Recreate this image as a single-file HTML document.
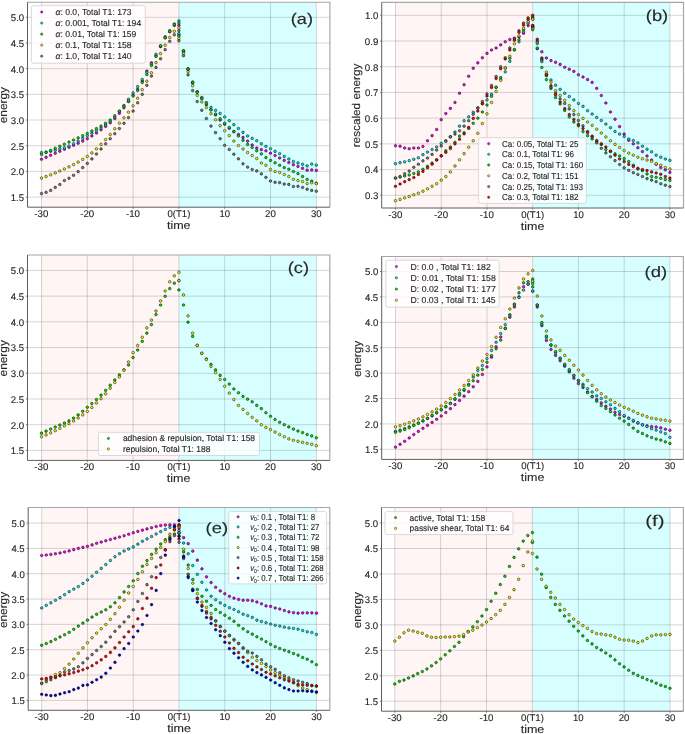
<!DOCTYPE html>
<html><head><meta charset="utf-8"><style>
html,body{margin:0;padding:0;background:#fff;}
svg{display:block;will-change:transform;}
text{fill:#262626;stroke:#262626;stroke-width:0.12px;text-rendering:geometricPrecision;}
</style></head><body>
<svg width="685" height="734" viewBox="0 0 685 734" font-family="Liberation Sans, sans-serif">
<rect width="685" height="734" fill="#fff"/>
<rect x="41.50" y="2.20" width="137.40" height="205.00" fill="#fff5f5"/>
<rect x="178.90" y="2.20" width="137.40" height="205.00" fill="#d8ffff"/>
<path d="M41.50 2.20V207.20M87.30 2.20V207.20M133.10 2.20V207.20M178.90 2.20V207.20M224.70 2.20V207.20M270.50 2.20V207.20M316.30 2.20V207.20M27.50 197.10H329.90M27.50 171.41H329.90M27.50 145.73H329.90M27.50 120.04H329.90M27.50 94.36H329.90M27.50 68.67H329.90M27.50 42.99H329.90M27.50 17.30H329.90" stroke="#000" stroke-opacity="0.16" stroke-width="1.0" fill="none"/>
<g fill="#ff00ff" stroke="#000" stroke-width="0.5"><circle cx="41.50" cy="159.19" r="1.3"/><circle cx="46.08" cy="157.24" r="1.3"/><circle cx="50.66" cy="155.27" r="1.3"/><circle cx="55.24" cy="153.27" r="1.3"/><circle cx="59.82" cy="151.26" r="1.3"/><circle cx="64.40" cy="149.22" r="1.3"/><circle cx="68.98" cy="147.22" r="1.3"/><circle cx="73.56" cy="145.26" r="1.3"/><circle cx="78.14" cy="143.24" r="1.3"/><circle cx="82.72" cy="141.08" r="1.3"/><circle cx="87.30" cy="138.69" r="1.3"/><circle cx="91.88" cy="136.00" r="1.3"/><circle cx="96.46" cy="133.04" r="1.3"/><circle cx="101.04" cy="129.82" r="1.3"/><circle cx="105.62" cy="126.37" r="1.3"/><circle cx="110.20" cy="122.71" r="1.3"/><circle cx="114.78" cy="118.50" r="1.3"/><circle cx="119.36" cy="113.36" r="1.3"/><circle cx="123.94" cy="107.71" r="1.3"/><circle cx="128.52" cy="101.55" r="1.3"/><circle cx="133.10" cy="95.38" r="1.3"/><circle cx="137.68" cy="89.22" r="1.3"/><circle cx="142.26" cy="81.00" r="1.3"/><circle cx="146.84" cy="71.09" r="1.3"/><circle cx="151.42" cy="62.82" r="1.3"/><circle cx="156.00" cy="55.83" r="1.3"/><circle cx="160.58" cy="46.58" r="1.3"/><circle cx="165.16" cy="37.85" r="1.3"/><circle cx="169.74" cy="31.68" r="1.3"/><circle cx="174.32" cy="25.52" r="1.3"/><circle cx="178.90" cy="25.31" r="1.3"/><circle cx="178.90" cy="34.77" r="1.3"/><circle cx="183.48" cy="51.72" r="1.3"/><circle cx="188.06" cy="69.70" r="1.3"/><circle cx="192.64" cy="83.06" r="1.3"/><circle cx="197.22" cy="92.05" r="1.3"/><circle cx="201.80" cy="98.47" r="1.3"/><circle cx="206.38" cy="104.63" r="1.3"/><circle cx="210.96" cy="109.77" r="1.3"/><circle cx="215.54" cy="114.91" r="1.3"/><circle cx="220.12" cy="120.04" r="1.3"/><circle cx="224.70" cy="124.15" r="1.3"/><circle cx="229.28" cy="128.26" r="1.3"/><circle cx="233.86" cy="131.60" r="1.3"/><circle cx="238.44" cy="134.43" r="1.3"/><circle cx="243.02" cy="137.41" r="1.3"/><circle cx="247.60" cy="141.11" r="1.3"/><circle cx="252.18" cy="144.96" r="1.3"/><circle cx="256.76" cy="148.09" r="1.3"/><circle cx="261.34" cy="149.63" r="1.3"/><circle cx="265.92" cy="150.81" r="1.3"/><circle cx="270.50" cy="153.13" r="1.3"/><circle cx="275.08" cy="155.49" r="1.3"/><circle cx="279.66" cy="158.01" r="1.3"/><circle cx="284.24" cy="160.42" r="1.3"/><circle cx="288.82" cy="162.53" r="1.3"/><circle cx="293.40" cy="164.74" r="1.3"/><circle cx="297.98" cy="166.43" r="1.3"/><circle cx="302.56" cy="168.33" r="1.3"/><circle cx="307.14" cy="170.13" r="1.3"/><circle cx="311.72" cy="169.92" r="1.3"/><circle cx="316.30" cy="170.39" r="1.3"/></g>
<g fill="#00e0e0" stroke="#000" stroke-width="0.5"><circle cx="41.50" cy="152.61" r="1.3"/><circle cx="46.08" cy="152.14" r="1.3"/><circle cx="50.66" cy="151.34" r="1.3"/><circle cx="55.24" cy="150.29" r="1.3"/><circle cx="59.82" cy="149.04" r="1.3"/><circle cx="64.40" cy="147.68" r="1.3"/><circle cx="68.98" cy="145.96" r="1.3"/><circle cx="73.56" cy="143.71" r="1.3"/><circle cx="78.14" cy="141.12" r="1.3"/><circle cx="82.72" cy="138.39" r="1.3"/><circle cx="87.30" cy="135.71" r="1.3"/><circle cx="91.88" cy="133.18" r="1.3"/><circle cx="96.46" cy="130.65" r="1.3"/><circle cx="101.04" cy="127.98" r="1.3"/><circle cx="105.62" cy="125.01" r="1.3"/><circle cx="110.20" cy="121.58" r="1.3"/><circle cx="114.78" cy="116.96" r="1.3"/><circle cx="119.36" cy="111.51" r="1.3"/><circle cx="123.94" cy="105.52" r="1.3"/><circle cx="128.52" cy="99.24" r="1.3"/><circle cx="133.10" cy="92.92" r="1.3"/><circle cx="137.68" cy="86.50" r="1.3"/><circle cx="142.26" cy="79.46" r="1.3"/><circle cx="146.84" cy="72.27" r="1.3"/><circle cx="151.42" cy="64.05" r="1.3"/><circle cx="156.00" cy="54.29" r="1.3"/><circle cx="160.58" cy="46.07" r="1.3"/><circle cx="165.16" cy="36.82" r="1.3"/><circle cx="169.74" cy="30.66" r="1.3"/><circle cx="174.32" cy="23.98" r="1.3"/><circle cx="178.90" cy="20.90" r="1.3"/><circle cx="178.90" cy="33.38" r="1.3"/><circle cx="183.48" cy="50.69" r="1.3"/><circle cx="188.06" cy="68.67" r="1.3"/><circle cx="192.64" cy="82.03" r="1.3"/><circle cx="197.22" cy="91.79" r="1.3"/><circle cx="201.80" cy="97.44" r="1.3"/><circle cx="206.38" cy="102.58" r="1.3"/><circle cx="210.96" cy="107.41" r="1.3"/><circle cx="215.54" cy="110.39" r="1.3"/><circle cx="220.12" cy="113.47" r="1.3"/><circle cx="224.70" cy="116.96" r="1.3"/><circle cx="229.28" cy="120.71" r="1.3"/><circle cx="233.86" cy="124.67" r="1.3"/><circle cx="238.44" cy="128.52" r="1.3"/><circle cx="243.02" cy="132.37" r="1.3"/><circle cx="247.60" cy="135.97" r="1.3"/><circle cx="252.18" cy="138.38" r="1.3"/><circle cx="256.76" cy="140.69" r="1.3"/><circle cx="261.34" cy="143.67" r="1.3"/><circle cx="265.92" cy="146.35" r="1.3"/><circle cx="270.50" cy="148.71" r="1.3"/><circle cx="275.08" cy="151.38" r="1.3"/><circle cx="279.66" cy="153.69" r="1.3"/><circle cx="284.24" cy="156.41" r="1.3"/><circle cx="288.82" cy="158.98" r="1.3"/><circle cx="293.40" cy="161.50" r="1.3"/><circle cx="297.98" cy="162.94" r="1.3"/><circle cx="302.56" cy="164.33" r="1.3"/><circle cx="307.14" cy="165.92" r="1.3"/><circle cx="311.72" cy="164.12" r="1.3"/><circle cx="316.30" cy="165.15" r="1.3"/></g>
<g fill="#00e000" stroke="#000" stroke-width="0.5"><circle cx="41.50" cy="154.41" r="1.3"/><circle cx="46.08" cy="152.41" r="1.3"/><circle cx="50.66" cy="150.39" r="1.3"/><circle cx="55.24" cy="148.34" r="1.3"/><circle cx="59.82" cy="146.28" r="1.3"/><circle cx="64.40" cy="144.19" r="1.3"/><circle cx="68.98" cy="142.10" r="1.3"/><circle cx="73.56" cy="140.02" r="1.3"/><circle cx="78.14" cy="137.91" r="1.3"/><circle cx="82.72" cy="135.71" r="1.3"/><circle cx="87.30" cy="133.40" r="1.3"/><circle cx="91.88" cy="131.04" r="1.3"/><circle cx="96.46" cy="128.64" r="1.3"/><circle cx="101.04" cy="126.09" r="1.3"/><circle cx="105.62" cy="123.27" r="1.3"/><circle cx="110.20" cy="120.04" r="1.3"/><circle cx="114.78" cy="115.78" r="1.3"/><circle cx="119.36" cy="111.10" r="1.3"/><circle cx="123.94" cy="106.16" r="1.3"/><circle cx="128.52" cy="101.06" r="1.3"/><circle cx="133.10" cy="95.90" r="1.3"/><circle cx="137.68" cy="90.61" r="1.3"/><circle cx="142.26" cy="82.54" r="1.3"/><circle cx="146.84" cy="74.58" r="1.3"/><circle cx="151.42" cy="65.59" r="1.3"/><circle cx="156.00" cy="56.39" r="1.3"/><circle cx="160.58" cy="45.81" r="1.3"/><circle cx="165.16" cy="37.49" r="1.3"/><circle cx="169.74" cy="31.48" r="1.3"/><circle cx="174.32" cy="24.49" r="1.3"/><circle cx="178.90" cy="23.10" r="1.3"/><circle cx="178.90" cy="36.00" r="1.3"/><circle cx="183.48" cy="50.90" r="1.3"/><circle cx="188.06" cy="68.98" r="1.3"/><circle cx="192.64" cy="82.54" r="1.3"/><circle cx="197.22" cy="92.30" r="1.3"/><circle cx="201.80" cy="98.47" r="1.3"/><circle cx="206.38" cy="103.71" r="1.3"/><circle cx="210.96" cy="109.77" r="1.3"/><circle cx="215.54" cy="114.08" r="1.3"/><circle cx="220.12" cy="118.71" r="1.3"/><circle cx="224.70" cy="123.28" r="1.3"/><circle cx="229.28" cy="127.59" r="1.3"/><circle cx="233.86" cy="131.60" r="1.3"/><circle cx="238.44" cy="135.97" r="1.3"/><circle cx="243.02" cy="140.28" r="1.3"/><circle cx="247.60" cy="144.39" r="1.3"/><circle cx="252.18" cy="147.53" r="1.3"/><circle cx="256.76" cy="150.81" r="1.3"/><circle cx="261.34" cy="153.90" r="1.3"/><circle cx="265.92" cy="157.60" r="1.3"/><circle cx="270.50" cy="160.42" r="1.3"/><circle cx="275.08" cy="162.73" r="1.3"/><circle cx="279.66" cy="165.30" r="1.3"/><circle cx="284.24" cy="167.61" r="1.3"/><circle cx="288.82" cy="169.21" r="1.3"/><circle cx="293.40" cy="171.52" r="1.3"/><circle cx="297.98" cy="173.62" r="1.3"/><circle cx="302.56" cy="176.55" r="1.3"/><circle cx="307.14" cy="179.43" r="1.3"/><circle cx="311.72" cy="181.17" r="1.3"/><circle cx="316.30" cy="183.23" r="1.3"/></g>
<g fill="#f0f000" stroke="#000" stroke-width="0.5"><circle cx="41.50" cy="178.09" r="1.3"/><circle cx="46.08" cy="176.53" r="1.3"/><circle cx="50.66" cy="174.82" r="1.3"/><circle cx="55.24" cy="172.97" r="1.3"/><circle cx="59.82" cy="171.01" r="1.3"/><circle cx="64.40" cy="168.95" r="1.3"/><circle cx="68.98" cy="166.80" r="1.3"/><circle cx="73.56" cy="164.54" r="1.3"/><circle cx="78.14" cy="162.11" r="1.3"/><circle cx="82.72" cy="159.42" r="1.3"/><circle cx="87.30" cy="156.41" r="1.3"/><circle cx="91.88" cy="152.92" r="1.3"/><circle cx="96.46" cy="148.88" r="1.3"/><circle cx="101.04" cy="144.39" r="1.3"/><circle cx="105.62" cy="139.58" r="1.3"/><circle cx="110.20" cy="134.53" r="1.3"/><circle cx="114.78" cy="128.78" r="1.3"/><circle cx="119.36" cy="123.22" r="1.3"/><circle cx="123.94" cy="117.79" r="1.3"/><circle cx="128.52" cy="112.11" r="1.3"/><circle cx="133.10" cy="105.81" r="1.3"/><circle cx="137.68" cy="98.21" r="1.3"/><circle cx="142.26" cy="89.73" r="1.3"/><circle cx="146.84" cy="81.21" r="1.3"/><circle cx="151.42" cy="72.78" r="1.3"/><circle cx="156.00" cy="62.61" r="1.3"/><circle cx="160.58" cy="53.62" r="1.3"/><circle cx="165.16" cy="45.19" r="1.3"/><circle cx="169.74" cy="37.49" r="1.3"/><circle cx="174.32" cy="31.27" r="1.3"/><circle cx="178.90" cy="27.78" r="1.3"/><circle cx="178.90" cy="38.52" r="1.3"/><circle cx="183.48" cy="53.47" r="1.3"/><circle cx="188.06" cy="71.75" r="1.3"/><circle cx="192.64" cy="85.78" r="1.3"/><circle cx="197.22" cy="95.38" r="1.3"/><circle cx="201.80" cy="101.91" r="1.3"/><circle cx="206.38" cy="107.61" r="1.3"/><circle cx="210.96" cy="113.72" r="1.3"/><circle cx="215.54" cy="119.79" r="1.3"/><circle cx="220.12" cy="125.69" r="1.3"/><circle cx="224.70" cy="130.73" r="1.3"/><circle cx="229.28" cy="135.71" r="1.3"/><circle cx="233.86" cy="141.11" r="1.3"/><circle cx="238.44" cy="145.52" r="1.3"/><circle cx="243.02" cy="149.02" r="1.3"/><circle cx="247.60" cy="152.51" r="1.3"/><circle cx="252.18" cy="155.49" r="1.3"/><circle cx="256.76" cy="158.52" r="1.3"/><circle cx="261.34" cy="162.94" r="1.3"/><circle cx="265.92" cy="165.30" r="1.3"/><circle cx="270.50" cy="169.51" r="1.3"/><circle cx="275.08" cy="171.52" r="1.3"/><circle cx="279.66" cy="172.49" r="1.3"/><circle cx="284.24" cy="174.50" r="1.3"/><circle cx="288.82" cy="176.55" r="1.3"/><circle cx="293.40" cy="179.33" r="1.3"/><circle cx="297.98" cy="180.61" r="1.3"/><circle cx="302.56" cy="181.53" r="1.3"/><circle cx="307.14" cy="183.59" r="1.3"/><circle cx="311.72" cy="182.82" r="1.3"/><circle cx="316.30" cy="183.69" r="1.3"/></g>
<g fill="#7a7a7a" stroke="#000" stroke-width="0.5"><circle cx="41.50" cy="193.61" r="1.3"/><circle cx="46.08" cy="192.32" r="1.3"/><circle cx="50.66" cy="190.42" r="1.3"/><circle cx="55.24" cy="187.39" r="1.3"/><circle cx="59.82" cy="184.51" r="1.3"/><circle cx="64.40" cy="180.51" r="1.3"/><circle cx="68.98" cy="178.30" r="1.3"/><circle cx="73.56" cy="175.28" r="1.3"/><circle cx="78.14" cy="171.64" r="1.3"/><circle cx="82.72" cy="167.61" r="1.3"/><circle cx="87.30" cy="163.40" r="1.3"/><circle cx="91.88" cy="158.92" r="1.3"/><circle cx="96.46" cy="154.04" r="1.3"/><circle cx="101.04" cy="148.94" r="1.3"/><circle cx="105.62" cy="143.76" r="1.3"/><circle cx="110.20" cy="138.69" r="1.3"/><circle cx="114.78" cy="133.71" r="1.3"/><circle cx="119.36" cy="128.55" r="1.3"/><circle cx="123.94" cy="123.29" r="1.3"/><circle cx="128.52" cy="117.59" r="1.3"/><circle cx="133.10" cy="111.10" r="1.3"/><circle cx="137.68" cy="102.78" r="1.3"/><circle cx="142.26" cy="94.36" r="1.3"/><circle cx="146.84" cy="85.32" r="1.3"/><circle cx="151.42" cy="76.12" r="1.3"/><circle cx="156.00" cy="67.39" r="1.3"/><circle cx="160.58" cy="58.71" r="1.3"/><circle cx="165.16" cy="49.66" r="1.3"/><circle cx="169.74" cy="41.29" r="1.3"/><circle cx="174.32" cy="34.77" r="1.3"/><circle cx="178.90" cy="30.66" r="1.3"/><circle cx="178.90" cy="40.67" r="1.3"/><circle cx="183.48" cy="55.67" r="1.3"/><circle cx="188.06" cy="74.84" r="1.3"/><circle cx="192.64" cy="90.61" r="1.3"/><circle cx="197.22" cy="101.55" r="1.3"/><circle cx="201.80" cy="110.28" r="1.3"/><circle cx="206.38" cy="118.50" r="1.3"/><circle cx="210.96" cy="126.10" r="1.3"/><circle cx="215.54" cy="132.58" r="1.3"/><circle cx="220.12" cy="138.69" r="1.3"/><circle cx="224.70" cy="145.32" r="1.3"/><circle cx="229.28" cy="149.43" r="1.3"/><circle cx="233.86" cy="154.20" r="1.3"/><circle cx="238.44" cy="158.83" r="1.3"/><circle cx="243.02" cy="163.81" r="1.3"/><circle cx="247.60" cy="167.10" r="1.3"/><circle cx="252.18" cy="169.51" r="1.3"/><circle cx="256.76" cy="170.90" r="1.3"/><circle cx="261.34" cy="173.88" r="1.3"/><circle cx="265.92" cy="177.32" r="1.3"/><circle cx="270.50" cy="181.02" r="1.3"/><circle cx="275.08" cy="182.31" r="1.3"/><circle cx="279.66" cy="182.61" r="1.3"/><circle cx="284.24" cy="184.10" r="1.3"/><circle cx="288.82" cy="184.41" r="1.3"/><circle cx="293.40" cy="186.52" r="1.3"/><circle cx="297.98" cy="186.31" r="1.3"/><circle cx="302.56" cy="187.49" r="1.3"/><circle cx="307.14" cy="189.19" r="1.3"/><circle cx="311.72" cy="190.42" r="1.3"/><circle cx="316.30" cy="191.19" r="1.3"/></g>
<path d="M27.50 2.20H329.90V207.20" fill="none" stroke="#a6a6a6" stroke-width="1.15"/>
<path d="M27.50 2.20V207.20H329.90" fill="none" stroke="#5e5e5e" stroke-width="1"/>
<path d="M41.50 207.20v1.6M87.30 207.20v1.6M133.10 207.20v1.6M178.90 207.20v1.6M224.70 207.20v1.6M270.50 207.20v1.6M316.30 207.20v1.6M27.50 197.10h-1.6M27.50 171.41h-1.6M27.50 145.73h-1.6M27.50 120.04h-1.6M27.50 94.36h-1.6M27.50 68.67h-1.6M27.50 42.99h-1.6M27.50 17.30h-1.6" stroke="#5e5e5e" stroke-width="0.8" fill="none"/>
<text x="34.39" y="217.20" font-size="9.66" textLength="14.01" lengthAdjust="spacingAndGlyphs">-30</text>
<text x="80.19" y="217.20" font-size="9.66" textLength="14.01" lengthAdjust="spacingAndGlyphs">-20</text>
<text x="125.99" y="217.20" font-size="9.66" textLength="14.01" lengthAdjust="spacingAndGlyphs">-10</text>
<text x="167.50" y="217.20" font-size="9.66" textLength="22.86" lengthAdjust="spacingAndGlyphs">0(T1)</text>
<text x="219.40" y="217.20" font-size="9.66" textLength="10.65" lengthAdjust="spacingAndGlyphs">10</text>
<text x="265.11" y="217.20" font-size="9.66" textLength="10.74" lengthAdjust="spacingAndGlyphs">20</text>
<text x="311.06" y="217.20" font-size="9.66" textLength="10.59" lengthAdjust="spacingAndGlyphs">30</text>
<text x="10.76" y="201.00" font-size="9.66" textLength="13.23" lengthAdjust="spacingAndGlyphs">1.5</text>
<text x="10.66" y="175.31" font-size="9.66" textLength="13.49" lengthAdjust="spacingAndGlyphs">2.0</text>
<text x="10.67" y="149.63" font-size="9.66" textLength="13.33" lengthAdjust="spacingAndGlyphs">2.5</text>
<text x="10.81" y="123.94" font-size="9.66" textLength="13.34" lengthAdjust="spacingAndGlyphs">3.0</text>
<text x="10.81" y="98.26" font-size="9.66" textLength="13.18" lengthAdjust="spacingAndGlyphs">3.5</text>
<text x="10.73" y="72.57" font-size="9.66" textLength="13.41" lengthAdjust="spacingAndGlyphs">4.0</text>
<text x="10.73" y="46.89" font-size="9.66" textLength="13.26" lengthAdjust="spacingAndGlyphs">4.5</text>
<text x="10.80" y="21.20" font-size="9.66" textLength="13.34" lengthAdjust="spacingAndGlyphs">5.0</text>
<text x="166.94" y="228.70" font-size="11.24" textLength="23.63" lengthAdjust="spacingAndGlyphs">time</text>
<g transform="translate(6.50,105.05) rotate(-90)"><text x="-18.22" y="0.00" font-size="11.24" textLength="36.24" lengthAdjust="spacingAndGlyphs">energy</text></g>
<text x="290.77" y="23.92" font-size="15.34" textLength="22.16" lengthAdjust="spacingAndGlyphs">(a)</text>
<rect x="31.40" y="5.70" width="113.90" height="57.50" rx="2" fill="#fff" fill-opacity="0.8" stroke="#d0d0d0" stroke-width="0.8"/>
<circle cx="41.70" cy="12.00" r="1.15" fill="#ff00ff" stroke="#000" stroke-width="0.4"/>
<text x="55.50" y="15.00" font-size="8.66" textLength="76.03" lengthAdjust="spacingAndGlyphs"><tspan font-style="italic">α</tspan>: 0.0, Total T1: 173</text>
<circle cx="41.70" cy="23.10" r="1.15" fill="#00e0e0" stroke="#000" stroke-width="0.4"/>
<text x="55.50" y="26.10" font-size="8.66" textLength="85.70" lengthAdjust="spacingAndGlyphs"><tspan font-style="italic">α</tspan>: 0.001, Total T1: 194</text>
<circle cx="41.70" cy="34.20" r="1.15" fill="#00e000" stroke="#000" stroke-width="0.4"/>
<text x="55.50" y="37.20" font-size="8.66" textLength="80.87" lengthAdjust="spacingAndGlyphs"><tspan font-style="italic">α</tspan>: 0.01, Total T1: 159</text>
<circle cx="41.70" cy="45.20" r="1.15" fill="#f0f000" stroke="#000" stroke-width="0.4"/>
<text x="55.50" y="48.20" font-size="8.66" textLength="76.03" lengthAdjust="spacingAndGlyphs"><tspan font-style="italic">α</tspan>: 0.1, Total T1: 158</text>
<circle cx="41.70" cy="56.20" r="1.15" fill="#7a7a7a" stroke="#000" stroke-width="0.4"/>
<text x="55.50" y="59.20" font-size="8.66" textLength="76.03" lengthAdjust="spacingAndGlyphs"><tspan font-style="italic">α</tspan>: 1.0, Total T1: 140</text>
<rect x="395.50" y="2.40" width="137.20" height="205.60" fill="#fff5f5"/>
<rect x="532.70" y="2.40" width="137.20" height="205.60" fill="#d8ffff"/>
<path d="M395.50 2.40V208.00M441.23 2.40V208.00M486.97 2.40V208.00M532.70 2.40V208.00M578.43 2.40V208.00M624.17 2.40V208.00M669.90 2.40V208.00M381.70 195.30H683.50M381.70 169.59H683.50M381.70 143.87H683.50M381.70 118.16H683.50M381.70 92.44H683.50M381.70 66.73H683.50M381.70 41.01H683.50M381.70 15.30H683.50" stroke="#000" stroke-opacity="0.16" stroke-width="1.0" fill="none"/>
<g fill="#ff00ff" stroke="#000" stroke-width="0.5"><circle cx="395.50" cy="145.80" r="1.3"/><circle cx="400.07" cy="146.19" r="1.3"/><circle cx="404.65" cy="147.99" r="1.3"/><circle cx="409.22" cy="148.76" r="1.3"/><circle cx="413.79" cy="147.99" r="1.3"/><circle cx="418.37" cy="147.99" r="1.3"/><circle cx="422.94" cy="146.44" r="1.3"/><circle cx="427.51" cy="140.79" r="1.3"/><circle cx="432.09" cy="135.64" r="1.3"/><circle cx="436.66" cy="129.47" r="1.3"/><circle cx="441.23" cy="119.70" r="1.3"/><circle cx="445.81" cy="113.53" r="1.3"/><circle cx="450.38" cy="108.39" r="1.3"/><circle cx="454.95" cy="102.47" r="1.3"/><circle cx="459.53" cy="93.21" r="1.3"/><circle cx="464.10" cy="84.73" r="1.3"/><circle cx="468.67" cy="76.24" r="1.3"/><circle cx="473.25" cy="68.27" r="1.3"/><circle cx="477.82" cy="62.87" r="1.3"/><circle cx="482.39" cy="57.73" r="1.3"/><circle cx="486.97" cy="53.36" r="1.3"/><circle cx="491.54" cy="50.01" r="1.3"/><circle cx="496.11" cy="47.96" r="1.3"/><circle cx="500.69" cy="44.87" r="1.3"/><circle cx="505.26" cy="41.79" r="1.3"/><circle cx="509.83" cy="39.47" r="1.3"/><circle cx="514.41" cy="38.19" r="1.3"/><circle cx="518.98" cy="36.90" r="1.3"/><circle cx="523.55" cy="33.30" r="1.3"/><circle cx="528.13" cy="25.59" r="1.3"/><circle cx="532.70" cy="25.59" r="1.3"/><circle cx="532.70" cy="26.87" r="1.3"/><circle cx="537.27" cy="48.73" r="1.3"/><circle cx="541.85" cy="51.81" r="1.3"/><circle cx="546.42" cy="57.99" r="1.3"/><circle cx="550.99" cy="60.56" r="1.3"/><circle cx="555.57" cy="62.36" r="1.3"/><circle cx="560.14" cy="64.41" r="1.3"/><circle cx="564.71" cy="67.24" r="1.3"/><circle cx="569.29" cy="69.30" r="1.3"/><circle cx="573.86" cy="71.36" r="1.3"/><circle cx="578.43" cy="74.70" r="1.3"/><circle cx="583.01" cy="77.01" r="1.3"/><circle cx="587.58" cy="79.59" r="1.3"/><circle cx="592.15" cy="82.41" r="1.3"/><circle cx="596.73" cy="88.33" r="1.3"/><circle cx="601.30" cy="95.53" r="1.3"/><circle cx="605.87" cy="102.99" r="1.3"/><circle cx="610.45" cy="111.99" r="1.3"/><circle cx="615.02" cy="119.19" r="1.3"/><circle cx="619.59" cy="126.64" r="1.3"/><circle cx="624.17" cy="134.10" r="1.3"/><circle cx="628.74" cy="140.27" r="1.3"/><circle cx="633.31" cy="143.87" r="1.3"/><circle cx="637.89" cy="147.73" r="1.3"/><circle cx="642.46" cy="151.59" r="1.3"/><circle cx="647.03" cy="155.96" r="1.3"/><circle cx="651.61" cy="160.07" r="1.3"/><circle cx="656.18" cy="164.19" r="1.3"/><circle cx="660.75" cy="167.53" r="1.3"/><circle cx="665.33" cy="169.84" r="1.3"/><circle cx="669.90" cy="172.41" r="1.3"/></g>
<g fill="#00e0e0" stroke="#000" stroke-width="0.5"><circle cx="395.50" cy="163.67" r="1.3"/><circle cx="400.07" cy="162.64" r="1.3"/><circle cx="404.65" cy="161.87" r="1.3"/><circle cx="409.22" cy="160.59" r="1.3"/><circle cx="413.79" cy="159.30" r="1.3"/><circle cx="418.37" cy="157.76" r="1.3"/><circle cx="422.94" cy="154.67" r="1.3"/><circle cx="427.51" cy="152.10" r="1.3"/><circle cx="432.09" cy="149.53" r="1.3"/><circle cx="436.66" cy="146.96" r="1.3"/><circle cx="441.23" cy="143.36" r="1.3"/><circle cx="445.81" cy="140.79" r="1.3"/><circle cx="450.38" cy="136.67" r="1.3"/><circle cx="454.95" cy="132.04" r="1.3"/><circle cx="459.53" cy="126.13" r="1.3"/><circle cx="464.10" cy="120.73" r="1.3"/><circle cx="468.67" cy="116.87" r="1.3"/><circle cx="473.25" cy="112.24" r="1.3"/><circle cx="477.82" cy="107.87" r="1.3"/><circle cx="482.39" cy="103.50" r="1.3"/><circle cx="486.97" cy="99.90" r="1.3"/><circle cx="491.54" cy="94.24" r="1.3"/><circle cx="496.11" cy="87.30" r="1.3"/><circle cx="500.69" cy="79.59" r="1.3"/><circle cx="505.26" cy="71.87" r="1.3"/><circle cx="509.83" cy="61.33" r="1.3"/><circle cx="514.41" cy="50.01" r="1.3"/><circle cx="518.98" cy="41.79" r="1.3"/><circle cx="523.55" cy="31.76" r="1.3"/><circle cx="528.13" cy="23.53" r="1.3"/><circle cx="532.70" cy="19.16" r="1.3"/><circle cx="532.70" cy="28.16" r="1.3"/><circle cx="537.27" cy="43.59" r="1.3"/><circle cx="541.85" cy="61.59" r="1.3"/><circle cx="546.42" cy="74.44" r="1.3"/><circle cx="550.99" cy="80.10" r="1.3"/><circle cx="555.57" cy="85.24" r="1.3"/><circle cx="560.14" cy="89.36" r="1.3"/><circle cx="564.71" cy="93.21" r="1.3"/><circle cx="569.29" cy="96.56" r="1.3"/><circle cx="573.86" cy="99.90" r="1.3"/><circle cx="578.43" cy="103.50" r="1.3"/><circle cx="583.01" cy="106.33" r="1.3"/><circle cx="587.58" cy="110.70" r="1.3"/><circle cx="592.15" cy="114.04" r="1.3"/><circle cx="596.73" cy="117.39" r="1.3"/><circle cx="601.30" cy="120.47" r="1.3"/><circle cx="605.87" cy="124.07" r="1.3"/><circle cx="610.45" cy="127.67" r="1.3"/><circle cx="615.02" cy="131.53" r="1.3"/><circle cx="619.59" cy="134.10" r="1.3"/><circle cx="624.17" cy="136.41" r="1.3"/><circle cx="628.74" cy="138.99" r="1.3"/><circle cx="633.31" cy="140.53" r="1.3"/><circle cx="637.89" cy="142.84" r="1.3"/><circle cx="642.46" cy="146.19" r="1.3"/><circle cx="647.03" cy="149.27" r="1.3"/><circle cx="651.61" cy="151.84" r="1.3"/><circle cx="656.18" cy="155.19" r="1.3"/><circle cx="660.75" cy="157.24" r="1.3"/><circle cx="665.33" cy="159.04" r="1.3"/><circle cx="669.90" cy="160.33" r="1.3"/></g>
<g fill="#00e000" stroke="#000" stroke-width="0.5"><circle cx="395.50" cy="178.07" r="1.3"/><circle cx="400.07" cy="177.04" r="1.3"/><circle cx="404.65" cy="176.01" r="1.3"/><circle cx="409.22" cy="174.99" r="1.3"/><circle cx="413.79" cy="173.44" r="1.3"/><circle cx="418.37" cy="171.90" r="1.3"/><circle cx="422.94" cy="169.33" r="1.3"/><circle cx="427.51" cy="166.24" r="1.3"/><circle cx="432.09" cy="163.16" r="1.3"/><circle cx="436.66" cy="159.81" r="1.3"/><circle cx="441.23" cy="155.70" r="1.3"/><circle cx="445.81" cy="150.81" r="1.3"/><circle cx="450.38" cy="146.96" r="1.3"/><circle cx="454.95" cy="142.33" r="1.3"/><circle cx="459.53" cy="136.16" r="1.3"/><circle cx="464.10" cy="132.81" r="1.3"/><circle cx="468.67" cy="128.44" r="1.3"/><circle cx="473.25" cy="123.30" r="1.3"/><circle cx="477.82" cy="118.16" r="1.3"/><circle cx="482.39" cy="111.99" r="1.3"/><circle cx="486.97" cy="105.04" r="1.3"/><circle cx="491.54" cy="96.30" r="1.3"/><circle cx="496.11" cy="87.30" r="1.3"/><circle cx="500.69" cy="77.53" r="1.3"/><circle cx="505.26" cy="68.01" r="1.3"/><circle cx="509.83" cy="58.24" r="1.3"/><circle cx="514.41" cy="49.50" r="1.3"/><circle cx="518.98" cy="39.73" r="1.3"/><circle cx="523.55" cy="29.70" r="1.3"/><circle cx="528.13" cy="21.73" r="1.3"/><circle cx="532.70" cy="17.87" r="1.3"/><circle cx="532.70" cy="29.70" r="1.3"/><circle cx="537.27" cy="47.96" r="1.3"/><circle cx="541.85" cy="67.50" r="1.3"/><circle cx="546.42" cy="79.59" r="1.3"/><circle cx="550.99" cy="88.33" r="1.3"/><circle cx="555.57" cy="97.59" r="1.3"/><circle cx="560.14" cy="104.01" r="1.3"/><circle cx="564.71" cy="110.44" r="1.3"/><circle cx="569.29" cy="116.87" r="1.3"/><circle cx="573.86" cy="122.01" r="1.3"/><circle cx="578.43" cy="125.87" r="1.3"/><circle cx="583.01" cy="131.53" r="1.3"/><circle cx="587.58" cy="135.64" r="1.3"/><circle cx="592.15" cy="138.99" r="1.3"/><circle cx="596.73" cy="141.81" r="1.3"/><circle cx="601.30" cy="144.39" r="1.3"/><circle cx="605.87" cy="149.53" r="1.3"/><circle cx="610.45" cy="151.59" r="1.3"/><circle cx="615.02" cy="153.90" r="1.3"/><circle cx="619.59" cy="155.96" r="1.3"/><circle cx="624.17" cy="158.53" r="1.3"/><circle cx="628.74" cy="161.61" r="1.3"/><circle cx="633.31" cy="165.21" r="1.3"/><circle cx="637.89" cy="169.07" r="1.3"/><circle cx="642.46" cy="170.61" r="1.3"/><circle cx="647.03" cy="173.96" r="1.3"/><circle cx="651.61" cy="176.53" r="1.3"/><circle cx="656.18" cy="177.30" r="1.3"/><circle cx="660.75" cy="178.33" r="1.3"/><circle cx="665.33" cy="179.61" r="1.3"/><circle cx="669.90" cy="180.39" r="1.3"/></g>
<g fill="#f0f000" stroke="#000" stroke-width="0.5"><circle cx="395.50" cy="200.70" r="1.3"/><circle cx="400.07" cy="199.41" r="1.3"/><circle cx="404.65" cy="197.87" r="1.3"/><circle cx="409.22" cy="196.59" r="1.3"/><circle cx="413.79" cy="194.79" r="1.3"/><circle cx="418.37" cy="193.24" r="1.3"/><circle cx="422.94" cy="191.19" r="1.3"/><circle cx="427.51" cy="188.87" r="1.3"/><circle cx="432.09" cy="186.30" r="1.3"/><circle cx="436.66" cy="183.73" r="1.3"/><circle cx="441.23" cy="180.13" r="1.3"/><circle cx="445.81" cy="176.53" r="1.3"/><circle cx="450.38" cy="171.90" r="1.3"/><circle cx="454.95" cy="165.99" r="1.3"/><circle cx="459.53" cy="159.81" r="1.3"/><circle cx="464.10" cy="153.64" r="1.3"/><circle cx="468.67" cy="147.21" r="1.3"/><circle cx="473.25" cy="140.79" r="1.3"/><circle cx="477.82" cy="133.33" r="1.3"/><circle cx="482.39" cy="123.56" r="1.3"/><circle cx="486.97" cy="113.79" r="1.3"/><circle cx="491.54" cy="102.47" r="1.3"/><circle cx="496.11" cy="91.41" r="1.3"/><circle cx="500.69" cy="80.36" r="1.3"/><circle cx="505.26" cy="68.01" r="1.3"/><circle cx="509.83" cy="56.19" r="1.3"/><circle cx="514.41" cy="43.84" r="1.3"/><circle cx="518.98" cy="35.87" r="1.3"/><circle cx="523.55" cy="28.16" r="1.3"/><circle cx="528.13" cy="21.73" r="1.3"/><circle cx="532.70" cy="19.16" r="1.3"/><circle cx="532.70" cy="28.16" r="1.3"/><circle cx="537.27" cy="42.04" r="1.3"/><circle cx="541.85" cy="59.01" r="1.3"/><circle cx="546.42" cy="72.13" r="1.3"/><circle cx="550.99" cy="82.16" r="1.3"/><circle cx="555.57" cy="90.64" r="1.3"/><circle cx="560.14" cy="95.53" r="1.3"/><circle cx="564.71" cy="100.41" r="1.3"/><circle cx="569.29" cy="105.56" r="1.3"/><circle cx="573.86" cy="110.70" r="1.3"/><circle cx="578.43" cy="114.56" r="1.3"/><circle cx="583.01" cy="118.41" r="1.3"/><circle cx="587.58" cy="122.01" r="1.3"/><circle cx="592.15" cy="125.36" r="1.3"/><circle cx="596.73" cy="129.21" r="1.3"/><circle cx="601.30" cy="133.07" r="1.3"/><circle cx="605.87" cy="136.93" r="1.3"/><circle cx="610.45" cy="140.79" r="1.3"/><circle cx="615.02" cy="144.39" r="1.3"/><circle cx="619.59" cy="147.47" r="1.3"/><circle cx="624.17" cy="150.56" r="1.3"/><circle cx="628.74" cy="153.13" r="1.3"/><circle cx="633.31" cy="155.19" r="1.3"/><circle cx="637.89" cy="157.24" r="1.3"/><circle cx="642.46" cy="158.79" r="1.3"/><circle cx="647.03" cy="160.07" r="1.3"/><circle cx="651.61" cy="161.36" r="1.3"/><circle cx="656.18" cy="163.67" r="1.3"/><circle cx="660.75" cy="165.21" r="1.3"/><circle cx="665.33" cy="167.53" r="1.3"/><circle cx="669.90" cy="169.07" r="1.3"/></g>
<g fill="#7a7a7a" stroke="#000" stroke-width="0.5"><circle cx="395.50" cy="178.07" r="1.3"/><circle cx="400.07" cy="176.53" r="1.3"/><circle cx="404.65" cy="173.70" r="1.3"/><circle cx="409.22" cy="171.13" r="1.3"/><circle cx="413.79" cy="167.27" r="1.3"/><circle cx="418.37" cy="164.19" r="1.3"/><circle cx="422.94" cy="160.84" r="1.3"/><circle cx="427.51" cy="158.01" r="1.3"/><circle cx="432.09" cy="154.41" r="1.3"/><circle cx="436.66" cy="150.04" r="1.3"/><circle cx="441.23" cy="145.93" r="1.3"/><circle cx="445.81" cy="141.30" r="1.3"/><circle cx="450.38" cy="136.93" r="1.3"/><circle cx="454.95" cy="134.10" r="1.3"/><circle cx="459.53" cy="130.76" r="1.3"/><circle cx="464.10" cy="126.13" r="1.3"/><circle cx="468.67" cy="120.73" r="1.3"/><circle cx="473.25" cy="114.30" r="1.3"/><circle cx="477.82" cy="108.13" r="1.3"/><circle cx="482.39" cy="101.44" r="1.3"/><circle cx="486.97" cy="93.99" r="1.3"/><circle cx="491.54" cy="85.50" r="1.3"/><circle cx="496.11" cy="76.50" r="1.3"/><circle cx="500.69" cy="66.73" r="1.3"/><circle cx="505.26" cy="57.73" r="1.3"/><circle cx="509.83" cy="47.96" r="1.3"/><circle cx="514.41" cy="38.70" r="1.3"/><circle cx="518.98" cy="30.73" r="1.3"/><circle cx="523.55" cy="23.01" r="1.3"/><circle cx="528.13" cy="17.87" r="1.3"/><circle cx="532.70" cy="16.59" r="1.3"/><circle cx="532.70" cy="26.87" r="1.3"/><circle cx="537.27" cy="41.01" r="1.3"/><circle cx="541.85" cy="60.04" r="1.3"/><circle cx="546.42" cy="75.73" r="1.3"/><circle cx="550.99" cy="87.30" r="1.3"/><circle cx="555.57" cy="93.21" r="1.3"/><circle cx="560.14" cy="98.87" r="1.3"/><circle cx="564.71" cy="103.50" r="1.3"/><circle cx="569.29" cy="108.90" r="1.3"/><circle cx="573.86" cy="114.56" r="1.3"/><circle cx="578.43" cy="120.47" r="1.3"/><circle cx="583.01" cy="125.87" r="1.3"/><circle cx="587.58" cy="131.53" r="1.3"/><circle cx="592.15" cy="136.93" r="1.3"/><circle cx="596.73" cy="142.84" r="1.3"/><circle cx="601.30" cy="148.24" r="1.3"/><circle cx="605.87" cy="152.87" r="1.3"/><circle cx="610.45" cy="156.73" r="1.3"/><circle cx="615.02" cy="160.59" r="1.3"/><circle cx="619.59" cy="164.44" r="1.3"/><circle cx="624.17" cy="167.79" r="1.3"/><circle cx="628.74" cy="170.36" r="1.3"/><circle cx="633.31" cy="172.67" r="1.3"/><circle cx="637.89" cy="174.47" r="1.3"/><circle cx="642.46" cy="176.53" r="1.3"/><circle cx="647.03" cy="178.59" r="1.3"/><circle cx="651.61" cy="180.13" r="1.3"/><circle cx="656.18" cy="181.67" r="1.3"/><circle cx="660.75" cy="183.73" r="1.3"/><circle cx="665.33" cy="185.27" r="1.3"/><circle cx="669.90" cy="186.56" r="1.3"/></g>
<g fill="#ff0000" stroke="#000" stroke-width="0.5"><circle cx="395.50" cy="186.30" r="1.3"/><circle cx="400.07" cy="183.99" r="1.3"/><circle cx="404.65" cy="181.67" r="1.3"/><circle cx="409.22" cy="179.61" r="1.3"/><circle cx="413.79" cy="177.56" r="1.3"/><circle cx="418.37" cy="174.47" r="1.3"/><circle cx="422.94" cy="171.39" r="1.3"/><circle cx="427.51" cy="167.79" r="1.3"/><circle cx="432.09" cy="164.19" r="1.3"/><circle cx="436.66" cy="160.07" r="1.3"/><circle cx="441.23" cy="155.96" r="1.3"/><circle cx="445.81" cy="152.36" r="1.3"/><circle cx="450.38" cy="148.50" r="1.3"/><circle cx="454.95" cy="143.87" r="1.3"/><circle cx="459.53" cy="139.24" r="1.3"/><circle cx="464.10" cy="133.84" r="1.3"/><circle cx="468.67" cy="127.41" r="1.3"/><circle cx="473.25" cy="118.41" r="1.3"/><circle cx="477.82" cy="110.96" r="1.3"/><circle cx="482.39" cy="103.76" r="1.3"/><circle cx="486.97" cy="96.04" r="1.3"/><circle cx="491.54" cy="87.56" r="1.3"/><circle cx="496.11" cy="78.56" r="1.3"/><circle cx="500.69" cy="68.79" r="1.3"/><circle cx="505.26" cy="59.01" r="1.3"/><circle cx="509.83" cy="50.01" r="1.3"/><circle cx="514.41" cy="40.24" r="1.3"/><circle cx="518.98" cy="32.27" r="1.3"/><circle cx="523.55" cy="25.07" r="1.3"/><circle cx="528.13" cy="19.16" r="1.3"/><circle cx="532.70" cy="15.30" r="1.3"/><circle cx="532.70" cy="25.59" r="1.3"/><circle cx="537.27" cy="39.21" r="1.3"/><circle cx="541.85" cy="57.99" r="1.3"/><circle cx="546.42" cy="74.70" r="1.3"/><circle cx="550.99" cy="85.76" r="1.3"/><circle cx="555.57" cy="94.76" r="1.3"/><circle cx="560.14" cy="101.96" r="1.3"/><circle cx="564.71" cy="108.64" r="1.3"/><circle cx="569.29" cy="114.56" r="1.3"/><circle cx="573.86" cy="119.44" r="1.3"/><circle cx="578.43" cy="124.33" r="1.3"/><circle cx="583.01" cy="128.44" r="1.3"/><circle cx="587.58" cy="132.56" r="1.3"/><circle cx="592.15" cy="136.16" r="1.3"/><circle cx="596.73" cy="140.53" r="1.3"/><circle cx="601.30" cy="143.87" r="1.3"/><circle cx="605.87" cy="146.96" r="1.3"/><circle cx="610.45" cy="151.07" r="1.3"/><circle cx="615.02" cy="155.19" r="1.3"/><circle cx="619.59" cy="159.04" r="1.3"/><circle cx="624.17" cy="161.61" r="1.3"/><circle cx="628.74" cy="164.44" r="1.3"/><circle cx="633.31" cy="166.50" r="1.3"/><circle cx="637.89" cy="168.30" r="1.3"/><circle cx="642.46" cy="169.59" r="1.3"/><circle cx="647.03" cy="170.61" r="1.3"/><circle cx="651.61" cy="171.90" r="1.3"/><circle cx="656.18" cy="172.93" r="1.3"/><circle cx="660.75" cy="174.21" r="1.3"/><circle cx="665.33" cy="176.53" r="1.3"/><circle cx="669.90" cy="178.07" r="1.3"/></g>
<path d="M381.70 2.40H683.50V208.00" fill="none" stroke="#a6a6a6" stroke-width="1.15"/>
<path d="M381.70 2.40V208.00H683.50" fill="none" stroke="#5e5e5e" stroke-width="1"/>
<path d="M395.50 208.00v1.6M441.23 208.00v1.6M486.97 208.00v1.6M532.70 208.00v1.6M578.43 208.00v1.6M624.17 208.00v1.6M669.90 208.00v1.6M381.70 195.30h-1.6M381.70 169.59h-1.6M381.70 143.87h-1.6M381.70 118.16h-1.6M381.70 92.44h-1.6M381.70 66.73h-1.6M381.70 41.01h-1.6M381.70 15.30h-1.6" stroke="#5e5e5e" stroke-width="0.8" fill="none"/>
<text x="388.39" y="218.00" font-size="9.66" textLength="14.01" lengthAdjust="spacingAndGlyphs">-30</text>
<text x="434.13" y="218.00" font-size="9.66" textLength="14.01" lengthAdjust="spacingAndGlyphs">-20</text>
<text x="479.86" y="218.00" font-size="9.66" textLength="14.01" lengthAdjust="spacingAndGlyphs">-10</text>
<text x="521.30" y="218.00" font-size="9.66" textLength="22.86" lengthAdjust="spacingAndGlyphs">0(T1)</text>
<text x="573.14" y="218.00" font-size="9.66" textLength="10.65" lengthAdjust="spacingAndGlyphs">10</text>
<text x="618.78" y="218.00" font-size="9.66" textLength="10.74" lengthAdjust="spacingAndGlyphs">20</text>
<text x="664.66" y="218.00" font-size="9.66" textLength="10.59" lengthAdjust="spacingAndGlyphs">30</text>
<text x="364.89" y="199.20" font-size="9.66" textLength="13.37" lengthAdjust="spacingAndGlyphs">0.3</text>
<text x="364.89" y="173.49" font-size="9.66" textLength="13.44" lengthAdjust="spacingAndGlyphs">0.4</text>
<text x="364.90" y="147.77" font-size="9.66" textLength="13.29" lengthAdjust="spacingAndGlyphs">0.5</text>
<text x="364.89" y="122.06" font-size="9.66" textLength="13.53" lengthAdjust="spacingAndGlyphs">0.6</text>
<text x="364.89" y="96.34" font-size="9.66" textLength="13.40" lengthAdjust="spacingAndGlyphs">0.7</text>
<text x="364.89" y="70.63" font-size="9.66" textLength="13.48" lengthAdjust="spacingAndGlyphs">0.8</text>
<text x="364.89" y="44.91" font-size="9.66" textLength="13.48" lengthAdjust="spacingAndGlyphs">0.9</text>
<text x="364.95" y="19.20" font-size="9.66" textLength="13.40" lengthAdjust="spacingAndGlyphs">1.0</text>
<text x="520.84" y="229.50" font-size="11.24" textLength="23.63" lengthAdjust="spacingAndGlyphs">time</text>
<g transform="translate(360.10,105.40) rotate(-90)"><text x="-41.95" y="0.00" font-size="11.24" textLength="83.78" lengthAdjust="spacingAndGlyphs">rescaled energy</text></g>
<text x="645.75" y="21.41" font-size="15.87" textLength="22.49" lengthAdjust="spacingAndGlyphs">(b)</text>
<rect x="478.60" y="137.70" width="107.70" height="65.70" rx="2" fill="#fff" fill-opacity="0.8" stroke="#d0d0d0" stroke-width="0.8"/>
<circle cx="488.70" cy="143.70" r="1.15" fill="#ff00ff" stroke="#000" stroke-width="0.4"/>
<text x="501.99" y="146.70" font-size="8.66" textLength="76.43" lengthAdjust="spacingAndGlyphs">Ca: 0.05, Total T1: 25</text>
<circle cx="488.70" cy="154.30" r="1.15" fill="#00e0e0" stroke="#000" stroke-width="0.4"/>
<text x="501.99" y="157.30" font-size="8.66" textLength="72.04" lengthAdjust="spacingAndGlyphs">Ca: 0.1, Total T1: 96</text>
<circle cx="488.70" cy="165.00" r="1.15" fill="#00e000" stroke="#000" stroke-width="0.4"/>
<text x="501.99" y="168.00" font-size="8.66" textLength="81.14" lengthAdjust="spacingAndGlyphs">Ca: 0.15, Total T1: 160</text>
<circle cx="488.70" cy="175.80" r="1.15" fill="#f0f000" stroke="#000" stroke-width="0.4"/>
<text x="501.99" y="178.80" font-size="8.66" textLength="76.46" lengthAdjust="spacingAndGlyphs">Ca: 0.2, Total T1: 151</text>
<circle cx="488.70" cy="186.60" r="1.15" fill="#7a7a7a" stroke="#000" stroke-width="0.4"/>
<text x="501.99" y="189.60" font-size="8.66" textLength="81.07" lengthAdjust="spacingAndGlyphs">Ca: 0.25, Total T1: 193</text>
<circle cx="488.70" cy="197.30" r="1.15" fill="#ff0000" stroke="#000" stroke-width="0.4"/>
<text x="501.99" y="200.30" font-size="8.66" textLength="76.41" lengthAdjust="spacingAndGlyphs">Ca: 0.3, Total T1: 182</text>
<rect x="41.50" y="255.00" width="137.40" height="205.40" fill="#fff5f5"/>
<rect x="178.90" y="255.00" width="137.40" height="205.40" fill="#d8ffff"/>
<path d="M41.50 255.00V460.40M87.30 255.00V460.40M133.10 255.00V460.40M178.90 255.00V460.40M224.70 255.00V460.40M270.50 255.00V460.40M316.30 255.00V460.40M27.50 450.40H329.80M27.50 424.69H329.80M27.50 398.97H329.80M27.50 373.26H329.80M27.50 347.54H329.80M27.50 321.83H329.80M27.50 296.11H329.80M27.50 270.40H329.80" stroke="#000" stroke-opacity="0.16" stroke-width="1.0" fill="none"/>
<g fill="#00e000" stroke="#000" stroke-width="0.5"><circle cx="41.50" cy="433.17" r="1.3"/><circle cx="46.08" cy="431.15" r="1.3"/><circle cx="50.66" cy="429.11" r="1.3"/><circle cx="55.24" cy="427.05" r="1.3"/><circle cx="59.82" cy="424.99" r="1.3"/><circle cx="64.40" cy="423.03" r="1.3"/><circle cx="68.98" cy="420.88" r="1.3"/><circle cx="73.56" cy="418.12" r="1.3"/><circle cx="78.14" cy="414.91" r="1.3"/><circle cx="82.72" cy="411.23" r="1.3"/><circle cx="87.30" cy="407.30" r="1.3"/><circle cx="91.88" cy="403.54" r="1.3"/><circle cx="96.46" cy="399.59" r="1.3"/><circle cx="101.04" cy="395.16" r="1.3"/><circle cx="105.62" cy="390.38" r="1.3"/><circle cx="110.20" cy="385.25" r="1.3"/><circle cx="114.78" cy="379.99" r="1.3"/><circle cx="119.36" cy="374.91" r="1.3"/><circle cx="123.94" cy="369.91" r="1.3"/><circle cx="128.52" cy="365.03" r="1.3"/><circle cx="133.10" cy="357.57" r="1.3"/><circle cx="137.68" cy="350.01" r="1.3"/><circle cx="142.26" cy="341.37" r="1.3"/><circle cx="146.84" cy="333.14" r="1.3"/><circle cx="151.42" cy="324.61" r="1.3"/><circle cx="156.00" cy="314.53" r="1.3"/><circle cx="160.58" cy="305.01" r="1.3"/><circle cx="165.16" cy="296.27" r="1.3"/><circle cx="169.74" cy="288.61" r="1.3"/><circle cx="174.32" cy="283.21" r="1.3"/><circle cx="178.90" cy="280.69" r="1.3"/><circle cx="178.90" cy="289.99" r="1.3"/><circle cx="183.48" cy="305.01" r="1.3"/><circle cx="188.06" cy="322.19" r="1.3"/><circle cx="192.64" cy="336.38" r="1.3"/><circle cx="197.22" cy="345.38" r="1.3"/><circle cx="201.80" cy="353.30" r="1.3"/><circle cx="206.38" cy="359.01" r="1.3"/><circle cx="210.96" cy="364.41" r="1.3"/><circle cx="215.54" cy="369.91" r="1.3"/><circle cx="220.12" cy="375.42" r="1.3"/><circle cx="224.70" cy="379.43" r="1.3"/><circle cx="229.28" cy="384.11" r="1.3"/><circle cx="233.86" cy="388.99" r="1.3"/><circle cx="238.44" cy="392.80" r="1.3"/><circle cx="243.02" cy="396.40" r="1.3"/><circle cx="247.60" cy="399.13" r="1.3"/><circle cx="252.18" cy="401.80" r="1.3"/><circle cx="256.76" cy="405.40" r="1.3"/><circle cx="261.34" cy="408.59" r="1.3"/><circle cx="265.92" cy="412.70" r="1.3"/><circle cx="270.50" cy="416.30" r="1.3"/><circle cx="275.08" cy="419.54" r="1.3"/><circle cx="279.66" cy="422.27" r="1.3"/><circle cx="284.24" cy="424.69" r="1.3"/><circle cx="288.82" cy="426.90" r="1.3"/><circle cx="293.40" cy="429.11" r="1.3"/><circle cx="297.98" cy="431.01" r="1.3"/><circle cx="302.56" cy="432.61" r="1.3"/><circle cx="307.14" cy="434.51" r="1.3"/><circle cx="311.72" cy="435.90" r="1.3"/><circle cx="316.30" cy="437.80" r="1.3"/></g>
<g fill="#f0f000" stroke="#000" stroke-width="0.5"><circle cx="41.50" cy="436.72" r="1.3"/><circle cx="46.08" cy="434.91" r="1.3"/><circle cx="50.66" cy="432.91" r="1.3"/><circle cx="55.24" cy="430.68" r="1.3"/><circle cx="59.82" cy="428.29" r="1.3"/><circle cx="64.40" cy="425.82" r="1.3"/><circle cx="68.98" cy="423.66" r="1.3"/><circle cx="73.56" cy="420.99" r="1.3"/><circle cx="78.14" cy="418.00" r="1.3"/><circle cx="82.72" cy="414.87" r="1.3"/><circle cx="87.30" cy="411.42" r="1.3"/><circle cx="91.88" cy="407.43" r="1.3"/><circle cx="96.46" cy="403.09" r="1.3"/><circle cx="101.04" cy="398.65" r="1.3"/><circle cx="105.62" cy="393.83" r="1.3"/><circle cx="110.20" cy="388.17" r="1.3"/><circle cx="114.78" cy="382.51" r="1.3"/><circle cx="119.36" cy="376.86" r="1.3"/><circle cx="123.94" cy="370.17" r="1.3"/><circle cx="128.52" cy="361.94" r="1.3"/><circle cx="133.10" cy="352.69" r="1.3"/><circle cx="137.68" cy="345.49" r="1.3"/><circle cx="142.26" cy="337.26" r="1.3"/><circle cx="146.84" cy="327.90" r="1.3"/><circle cx="151.42" cy="320.03" r="1.3"/><circle cx="156.00" cy="311.03" r="1.3"/><circle cx="160.58" cy="300.90" r="1.3"/><circle cx="165.16" cy="290.97" r="1.3"/><circle cx="169.74" cy="281.82" r="1.3"/><circle cx="174.32" cy="275.80" r="1.3"/><circle cx="178.90" cy="272.30" r="1.3"/><circle cx="178.90" cy="280.48" r="1.3"/><circle cx="183.48" cy="294.88" r="1.3"/><circle cx="188.06" cy="315.91" r="1.3"/><circle cx="192.64" cy="333.14" r="1.3"/><circle cx="197.22" cy="345.38" r="1.3"/><circle cx="201.80" cy="353.30" r="1.3"/><circle cx="206.38" cy="359.53" r="1.3"/><circle cx="210.96" cy="366.42" r="1.3"/><circle cx="215.54" cy="372.59" r="1.3"/><circle cx="220.12" cy="379.43" r="1.3"/><circle cx="224.70" cy="386.27" r="1.3"/><circle cx="229.28" cy="393.11" r="1.3"/><circle cx="233.86" cy="399.59" r="1.3"/><circle cx="238.44" cy="405.40" r="1.3"/><circle cx="243.02" cy="409.41" r="1.3"/><circle cx="247.60" cy="413.53" r="1.3"/><circle cx="252.18" cy="417.28" r="1.3"/><circle cx="256.76" cy="420.88" r="1.3"/><circle cx="261.34" cy="424.69" r="1.3"/><circle cx="265.92" cy="427.41" r="1.3"/><circle cx="270.50" cy="429.57" r="1.3"/><circle cx="275.08" cy="432.09" r="1.3"/><circle cx="279.66" cy="434.51" r="1.3"/><circle cx="284.24" cy="436.72" r="1.3"/><circle cx="288.82" cy="438.88" r="1.3"/><circle cx="293.40" cy="440.27" r="1.3"/><circle cx="297.98" cy="441.30" r="1.3"/><circle cx="302.56" cy="442.38" r="1.3"/><circle cx="307.14" cy="443.30" r="1.3"/><circle cx="311.72" cy="444.28" r="1.3"/><circle cx="316.30" cy="445.67" r="1.3"/></g>
<path d="M27.50 255.00H329.80V460.40" fill="none" stroke="#a6a6a6" stroke-width="1.15"/>
<path d="M27.50 255.00V460.40H329.80" fill="none" stroke="#5e5e5e" stroke-width="1"/>
<path d="M41.50 460.40v1.6M87.30 460.40v1.6M133.10 460.40v1.6M178.90 460.40v1.6M224.70 460.40v1.6M270.50 460.40v1.6M316.30 460.40v1.6M27.50 450.40h-1.6M27.50 424.69h-1.6M27.50 398.97h-1.6M27.50 373.26h-1.6M27.50 347.54h-1.6M27.50 321.83h-1.6M27.50 296.11h-1.6M27.50 270.40h-1.6" stroke="#5e5e5e" stroke-width="0.8" fill="none"/>
<text x="34.39" y="470.40" font-size="9.66" textLength="14.01" lengthAdjust="spacingAndGlyphs">-30</text>
<text x="80.19" y="470.40" font-size="9.66" textLength="14.01" lengthAdjust="spacingAndGlyphs">-20</text>
<text x="125.99" y="470.40" font-size="9.66" textLength="14.01" lengthAdjust="spacingAndGlyphs">-10</text>
<text x="167.50" y="470.40" font-size="9.66" textLength="22.86" lengthAdjust="spacingAndGlyphs">0(T1)</text>
<text x="219.40" y="470.40" font-size="9.66" textLength="10.65" lengthAdjust="spacingAndGlyphs">10</text>
<text x="265.11" y="470.40" font-size="9.66" textLength="10.74" lengthAdjust="spacingAndGlyphs">20</text>
<text x="311.06" y="470.40" font-size="9.66" textLength="10.59" lengthAdjust="spacingAndGlyphs">30</text>
<text x="10.76" y="454.30" font-size="9.66" textLength="13.23" lengthAdjust="spacingAndGlyphs">1.5</text>
<text x="10.66" y="428.59" font-size="9.66" textLength="13.49" lengthAdjust="spacingAndGlyphs">2.0</text>
<text x="10.67" y="402.87" font-size="9.66" textLength="13.33" lengthAdjust="spacingAndGlyphs">2.5</text>
<text x="10.81" y="377.16" font-size="9.66" textLength="13.34" lengthAdjust="spacingAndGlyphs">3.0</text>
<text x="10.81" y="351.44" font-size="9.66" textLength="13.18" lengthAdjust="spacingAndGlyphs">3.5</text>
<text x="10.73" y="325.73" font-size="9.66" textLength="13.41" lengthAdjust="spacingAndGlyphs">4.0</text>
<text x="10.73" y="300.01" font-size="9.66" textLength="13.26" lengthAdjust="spacingAndGlyphs">4.5</text>
<text x="10.80" y="274.30" font-size="9.66" textLength="13.34" lengthAdjust="spacingAndGlyphs">5.0</text>
<text x="166.89" y="481.90" font-size="11.24" textLength="23.63" lengthAdjust="spacingAndGlyphs">time</text>
<g transform="translate(6.85,358.20) rotate(-90)"><text x="-18.22" y="0.00" font-size="11.24" textLength="36.24" lengthAdjust="spacingAndGlyphs">energy</text></g>
<text x="287.76" y="273.33" font-size="15.76" textLength="21.30" lengthAdjust="spacingAndGlyphs">(c)</text>
<rect x="98.40" y="432.30" width="161.10" height="23.20" rx="2" fill="#fff" fill-opacity="0.8" stroke="#d0d0d0" stroke-width="0.8"/>
<circle cx="108.40" cy="438.40" r="1.15" fill="#00e000" stroke="#000" stroke-width="0.4"/>
<text x="122.89" y="441.40" font-size="8.66" textLength="132.15" lengthAdjust="spacingAndGlyphs">adhesion &amp; repulsion, Total T1: 158</text>
<circle cx="108.40" cy="448.90" r="1.15" fill="#f0f000" stroke="#000" stroke-width="0.4"/>
<text x="122.91" y="451.90" font-size="8.66" textLength="87.48" lengthAdjust="spacingAndGlyphs">repulsion, Total T1: 188</text>
<rect x="395.50" y="256.50" width="137.20" height="202.90" fill="#fff5f5"/>
<rect x="532.70" y="256.50" width="137.20" height="202.90" fill="#d8ffff"/>
<path d="M395.50 256.50V459.40M441.23 256.50V459.40M486.97 256.50V459.40M532.70 256.50V459.40M578.43 256.50V459.40M624.17 256.50V459.40M669.90 256.50V459.40M381.70 449.30H683.40M381.70 423.90H683.40M381.70 398.50H683.40M381.70 373.10H683.40M381.70 347.70H683.40M381.70 322.30H683.40M381.70 296.90H683.40M381.70 271.50H683.40" stroke="#000" stroke-opacity="0.16" stroke-width="1.0" fill="none"/>
<g fill="#ff00ff" stroke="#000" stroke-width="0.5"><circle cx="395.50" cy="447.12" r="1.3"/><circle cx="400.07" cy="444.30" r="1.3"/><circle cx="404.65" cy="441.27" r="1.3"/><circle cx="409.22" cy="437.95" r="1.3"/><circle cx="413.79" cy="434.57" r="1.3"/><circle cx="418.37" cy="431.40" r="1.3"/><circle cx="422.94" cy="428.32" r="1.3"/><circle cx="427.51" cy="425.33" r="1.3"/><circle cx="432.09" cy="422.33" r="1.3"/><circle cx="436.66" cy="419.26" r="1.3"/><circle cx="441.23" cy="416.03" r="1.3"/><circle cx="445.81" cy="412.47" r="1.3"/><circle cx="450.38" cy="408.66" r="1.3"/><circle cx="454.95" cy="404.63" r="1.3"/><circle cx="459.53" cy="400.43" r="1.3"/><circle cx="464.10" cy="396.16" r="1.3"/><circle cx="468.67" cy="391.69" r="1.3"/><circle cx="473.25" cy="386.82" r="1.3"/><circle cx="477.82" cy="381.38" r="1.3"/><circle cx="482.39" cy="374.52" r="1.3"/><circle cx="486.97" cy="366.90" r="1.3"/><circle cx="491.54" cy="357.20" r="1.3"/><circle cx="496.11" cy="346.79" r="1.3"/><circle cx="500.69" cy="336.98" r="1.3"/><circle cx="505.26" cy="328.40" r="1.3"/><circle cx="509.83" cy="317.22" r="1.3"/><circle cx="514.41" cy="307.06" r="1.3"/><circle cx="518.98" cy="296.90" r="1.3"/><circle cx="523.55" cy="286.74" r="1.3"/><circle cx="528.13" cy="284.20" r="1.3"/><circle cx="532.70" cy="281.66" r="1.3"/><circle cx="532.70" cy="291.11" r="1.3"/><circle cx="537.27" cy="307.06" r="1.3"/><circle cx="541.85" cy="325.60" r="1.3"/><circle cx="546.42" cy="340.49" r="1.3"/><circle cx="550.99" cy="349.48" r="1.3"/><circle cx="555.57" cy="355.42" r="1.3"/><circle cx="560.14" cy="360.70" r="1.3"/><circle cx="564.71" cy="366.14" r="1.3"/><circle cx="569.29" cy="371.83" r="1.3"/><circle cx="573.86" cy="378.18" r="1.3"/><circle cx="578.43" cy="383.62" r="1.3"/><circle cx="583.01" cy="387.58" r="1.3"/><circle cx="587.58" cy="392.00" r="1.3"/><circle cx="592.15" cy="396.42" r="1.3"/><circle cx="596.73" cy="399.62" r="1.3"/><circle cx="601.30" cy="402.92" r="1.3"/><circle cx="605.87" cy="406.22" r="1.3"/><circle cx="610.45" cy="409.12" r="1.3"/><circle cx="615.02" cy="412.32" r="1.3"/><circle cx="619.59" cy="414.50" r="1.3"/><circle cx="624.17" cy="416.13" r="1.3"/><circle cx="628.74" cy="418.21" r="1.3"/><circle cx="633.31" cy="421.11" r="1.3"/><circle cx="637.89" cy="423.09" r="1.3"/><circle cx="642.46" cy="424.81" r="1.3"/><circle cx="647.03" cy="425.88" r="1.3"/><circle cx="651.61" cy="426.59" r="1.3"/><circle cx="656.18" cy="427.00" r="1.3"/><circle cx="660.75" cy="427.91" r="1.3"/><circle cx="665.33" cy="429.18" r="1.3"/><circle cx="669.90" cy="430.30" r="1.3"/></g>
<g fill="#00e0e0" stroke="#000" stroke-width="0.5"><circle cx="395.50" cy="431.32" r="1.3"/><circle cx="400.07" cy="430.04" r="1.3"/><circle cx="404.65" cy="428.56" r="1.3"/><circle cx="409.22" cy="426.88" r="1.3"/><circle cx="413.79" cy="425.05" r="1.3"/><circle cx="418.37" cy="423.09" r="1.3"/><circle cx="422.94" cy="420.93" r="1.3"/><circle cx="427.51" cy="418.52" r="1.3"/><circle cx="432.09" cy="415.88" r="1.3"/><circle cx="436.66" cy="413.03" r="1.3"/><circle cx="441.23" cy="409.98" r="1.3"/><circle cx="445.81" cy="406.74" r="1.3"/><circle cx="450.38" cy="403.25" r="1.3"/><circle cx="454.95" cy="399.42" r="1.3"/><circle cx="459.53" cy="395.17" r="1.3"/><circle cx="464.10" cy="390.42" r="1.3"/><circle cx="468.67" cy="384.28" r="1.3"/><circle cx="473.25" cy="377.06" r="1.3"/><circle cx="477.82" cy="370.51" r="1.3"/><circle cx="482.39" cy="365.43" r="1.3"/><circle cx="486.97" cy="358.52" r="1.3"/><circle cx="491.54" cy="350.39" r="1.3"/><circle cx="496.11" cy="342.21" r="1.3"/><circle cx="500.69" cy="333.48" r="1.3"/><circle cx="505.26" cy="324.69" r="1.3"/><circle cx="509.83" cy="314.68" r="1.3"/><circle cx="514.41" cy="304.01" r="1.3"/><circle cx="518.98" cy="297.51" r="1.3"/><circle cx="523.55" cy="290.09" r="1.3"/><circle cx="528.13" cy="284.10" r="1.3"/><circle cx="532.70" cy="283.69" r="1.3"/><circle cx="532.70" cy="291.11" r="1.3"/><circle cx="537.27" cy="305.03" r="1.3"/><circle cx="541.85" cy="324.33" r="1.3"/><circle cx="546.42" cy="337.54" r="1.3"/><circle cx="550.99" cy="345.16" r="1.3"/><circle cx="555.57" cy="352.78" r="1.3"/><circle cx="560.14" cy="358.88" r="1.3"/><circle cx="564.71" cy="364.97" r="1.3"/><circle cx="569.29" cy="370.56" r="1.3"/><circle cx="573.86" cy="375.64" r="1.3"/><circle cx="578.43" cy="380.62" r="1.3"/><circle cx="583.01" cy="384.28" r="1.3"/><circle cx="587.58" cy="388.70" r="1.3"/><circle cx="592.15" cy="392.00" r="1.3"/><circle cx="596.73" cy="395.91" r="1.3"/><circle cx="601.30" cy="398.50" r="1.3"/><circle cx="605.87" cy="401.80" r="1.3"/><circle cx="610.45" cy="404.70" r="1.3"/><circle cx="615.02" cy="408.41" r="1.3"/><circle cx="619.59" cy="411.71" r="1.3"/><circle cx="624.17" cy="415.62" r="1.3"/><circle cx="628.74" cy="418.21" r="1.3"/><circle cx="633.31" cy="420.39" r="1.3"/><circle cx="637.89" cy="422.63" r="1.3"/><circle cx="642.46" cy="424.81" r="1.3"/><circle cx="647.03" cy="426.59" r="1.3"/><circle cx="651.61" cy="428.78" r="1.3"/><circle cx="656.18" cy="430.10" r="1.3"/><circle cx="660.75" cy="431.82" r="1.3"/><circle cx="665.33" cy="433.60" r="1.3"/><circle cx="669.90" cy="437.31" r="1.3"/></g>
<g fill="#00e000" stroke="#000" stroke-width="0.5"><circle cx="395.50" cy="432.28" r="1.3"/><circle cx="400.07" cy="431.10" r="1.3"/><circle cx="404.65" cy="429.59" r="1.3"/><circle cx="409.22" cy="427.67" r="1.3"/><circle cx="413.79" cy="425.47" r="1.3"/><circle cx="418.37" cy="423.24" r="1.3"/><circle cx="422.94" cy="420.85" r="1.3"/><circle cx="427.51" cy="418.22" r="1.3"/><circle cx="432.09" cy="415.42" r="1.3"/><circle cx="436.66" cy="412.45" r="1.3"/><circle cx="441.23" cy="409.42" r="1.3"/><circle cx="445.81" cy="406.69" r="1.3"/><circle cx="450.38" cy="403.58" r="1.3"/><circle cx="454.95" cy="398.69" r="1.3"/><circle cx="459.53" cy="393.42" r="1.3"/><circle cx="464.10" cy="389.36" r="1.3"/><circle cx="468.67" cy="385.23" r="1.3"/><circle cx="473.25" cy="380.72" r="1.3"/><circle cx="477.82" cy="375.13" r="1.3"/><circle cx="482.39" cy="369.54" r="1.3"/><circle cx="486.97" cy="362.28" r="1.3"/><circle cx="491.54" cy="355.57" r="1.3"/><circle cx="496.11" cy="348.72" r="1.3"/><circle cx="500.69" cy="340.08" r="1.3"/><circle cx="505.26" cy="328.40" r="1.3"/><circle cx="509.83" cy="315.70" r="1.3"/><circle cx="514.41" cy="305.03" r="1.3"/><circle cx="518.98" cy="292.84" r="1.3"/><circle cx="523.55" cy="282.83" r="1.3"/><circle cx="528.13" cy="281.66" r="1.3"/><circle cx="532.70" cy="279.12" r="1.3"/><circle cx="532.70" cy="286.89" r="1.3"/><circle cx="537.27" cy="305.03" r="1.3"/><circle cx="541.85" cy="322.60" r="1.3"/><circle cx="546.42" cy="336.12" r="1.3"/><circle cx="550.99" cy="344.91" r="1.3"/><circle cx="555.57" cy="351.51" r="1.3"/><circle cx="560.14" cy="358.01" r="1.3"/><circle cx="564.71" cy="364.21" r="1.3"/><circle cx="569.29" cy="369.59" r="1.3"/><circle cx="573.86" cy="375.49" r="1.3"/><circle cx="578.43" cy="380.62" r="1.3"/><circle cx="583.01" cy="385.80" r="1.3"/><circle cx="587.58" cy="392.61" r="1.3"/><circle cx="592.15" cy="396.82" r="1.3"/><circle cx="596.73" cy="401.19" r="1.3"/><circle cx="601.30" cy="405.51" r="1.3"/><circle cx="605.87" cy="408.41" r="1.3"/><circle cx="610.45" cy="411.71" r="1.3"/><circle cx="615.02" cy="415.01" r="1.3"/><circle cx="619.59" cy="418.21" r="1.3"/><circle cx="624.17" cy="421.11" r="1.3"/><circle cx="628.74" cy="424.41" r="1.3"/><circle cx="633.31" cy="428.12" r="1.3"/><circle cx="637.89" cy="431.42" r="1.3"/><circle cx="642.46" cy="433.60" r="1.3"/><circle cx="647.03" cy="435.79" r="1.3"/><circle cx="651.61" cy="437.51" r="1.3"/><circle cx="656.18" cy="439.09" r="1.3"/><circle cx="660.75" cy="440.11" r="1.3"/><circle cx="665.33" cy="441.88" r="1.3"/><circle cx="669.90" cy="443.41" r="1.3"/></g>
<g fill="#f0f000" stroke="#000" stroke-width="0.5"><circle cx="395.50" cy="426.90" r="1.3"/><circle cx="400.07" cy="425.70" r="1.3"/><circle cx="404.65" cy="424.28" r="1.3"/><circle cx="409.22" cy="422.67" r="1.3"/><circle cx="413.79" cy="420.89" r="1.3"/><circle cx="418.37" cy="418.97" r="1.3"/><circle cx="422.94" cy="416.86" r="1.3"/><circle cx="427.51" cy="414.49" r="1.3"/><circle cx="432.09" cy="411.86" r="1.3"/><circle cx="436.66" cy="409.00" r="1.3"/><circle cx="441.23" cy="405.92" r="1.3"/><circle cx="445.81" cy="402.49" r="1.3"/><circle cx="450.38" cy="398.65" r="1.3"/><circle cx="454.95" cy="394.46" r="1.3"/><circle cx="459.53" cy="390.02" r="1.3"/><circle cx="464.10" cy="385.39" r="1.3"/><circle cx="468.67" cy="380.47" r="1.3"/><circle cx="473.25" cy="374.88" r="1.3"/><circle cx="477.82" cy="368.02" r="1.3"/><circle cx="482.39" cy="361.01" r="1.3"/><circle cx="486.97" cy="354.51" r="1.3"/><circle cx="491.54" cy="346.58" r="1.3"/><circle cx="496.11" cy="337.29" r="1.3"/><circle cx="500.69" cy="327.48" r="1.3"/><circle cx="505.26" cy="318.79" r="1.3"/><circle cx="509.83" cy="309.09" r="1.3"/><circle cx="514.41" cy="298.02" r="1.3"/><circle cx="518.98" cy="287.91" r="1.3"/><circle cx="523.55" cy="278.92" r="1.3"/><circle cx="528.13" cy="273.79" r="1.3"/><circle cx="532.70" cy="270.48" r="1.3"/><circle cx="532.70" cy="281.30" r="1.3"/><circle cx="537.27" cy="295.99" r="1.3"/><circle cx="541.85" cy="316.00" r="1.3"/><circle cx="546.42" cy="331.09" r="1.3"/><circle cx="550.99" cy="339.88" r="1.3"/><circle cx="555.57" cy="346.02" r="1.3"/><circle cx="560.14" cy="350.39" r="1.3"/><circle cx="564.71" cy="355.42" r="1.3"/><circle cx="569.29" cy="360.20" r="1.3"/><circle cx="573.86" cy="365.28" r="1.3"/><circle cx="578.43" cy="370.10" r="1.3"/><circle cx="583.01" cy="375.13" r="1.3"/><circle cx="587.58" cy="380.42" r="1.3"/><circle cx="592.15" cy="385.39" r="1.3"/><circle cx="596.73" cy="389.81" r="1.3"/><circle cx="601.30" cy="393.72" r="1.3"/><circle cx="605.87" cy="397.03" r="1.3"/><circle cx="610.45" cy="400.07" r="1.3"/><circle cx="615.02" cy="402.51" r="1.3"/><circle cx="619.59" cy="405.10" r="1.3"/><circle cx="624.17" cy="407.29" r="1.3"/><circle cx="628.74" cy="409.12" r="1.3"/><circle cx="633.31" cy="411.25" r="1.3"/><circle cx="637.89" cy="413.38" r="1.3"/><circle cx="642.46" cy="415.16" r="1.3"/><circle cx="647.03" cy="416.74" r="1.3"/><circle cx="651.61" cy="418.21" r="1.3"/><circle cx="656.18" cy="418.92" r="1.3"/><circle cx="660.75" cy="419.79" r="1.3"/><circle cx="665.33" cy="420.29" r="1.3"/><circle cx="669.90" cy="421.11" r="1.3"/></g>
<path d="M381.70 256.50H683.40V459.40" fill="none" stroke="#a6a6a6" stroke-width="1.15"/>
<path d="M381.70 256.50V459.40H683.40" fill="none" stroke="#5e5e5e" stroke-width="1"/>
<path d="M395.50 459.40v1.6M441.23 459.40v1.6M486.97 459.40v1.6M532.70 459.40v1.6M578.43 459.40v1.6M624.17 459.40v1.6M669.90 459.40v1.6M381.70 449.30h-1.6M381.70 423.90h-1.6M381.70 398.50h-1.6M381.70 373.10h-1.6M381.70 347.70h-1.6M381.70 322.30h-1.6M381.70 296.90h-1.6M381.70 271.50h-1.6" stroke="#5e5e5e" stroke-width="0.8" fill="none"/>
<text x="388.39" y="469.40" font-size="9.66" textLength="14.01" lengthAdjust="spacingAndGlyphs">-30</text>
<text x="434.13" y="469.40" font-size="9.66" textLength="14.01" lengthAdjust="spacingAndGlyphs">-20</text>
<text x="479.86" y="469.40" font-size="9.66" textLength="14.01" lengthAdjust="spacingAndGlyphs">-10</text>
<text x="521.30" y="469.40" font-size="9.66" textLength="22.86" lengthAdjust="spacingAndGlyphs">0(T1)</text>
<text x="573.14" y="469.40" font-size="9.66" textLength="10.65" lengthAdjust="spacingAndGlyphs">10</text>
<text x="618.78" y="469.40" font-size="9.66" textLength="10.74" lengthAdjust="spacingAndGlyphs">20</text>
<text x="664.66" y="469.40" font-size="9.66" textLength="10.59" lengthAdjust="spacingAndGlyphs">30</text>
<text x="364.96" y="453.20" font-size="9.66" textLength="13.23" lengthAdjust="spacingAndGlyphs">1.5</text>
<text x="364.86" y="427.80" font-size="9.66" textLength="13.49" lengthAdjust="spacingAndGlyphs">2.0</text>
<text x="364.87" y="402.40" font-size="9.66" textLength="13.33" lengthAdjust="spacingAndGlyphs">2.5</text>
<text x="365.01" y="377.00" font-size="9.66" textLength="13.34" lengthAdjust="spacingAndGlyphs">3.0</text>
<text x="365.01" y="351.60" font-size="9.66" textLength="13.18" lengthAdjust="spacingAndGlyphs">3.5</text>
<text x="364.93" y="326.20" font-size="9.66" textLength="13.41" lengthAdjust="spacingAndGlyphs">4.0</text>
<text x="364.93" y="300.80" font-size="9.66" textLength="13.26" lengthAdjust="spacingAndGlyphs">4.5</text>
<text x="365.00" y="275.40" font-size="9.66" textLength="13.34" lengthAdjust="spacingAndGlyphs">5.0</text>
<text x="520.79" y="480.90" font-size="11.24" textLength="23.63" lengthAdjust="spacingAndGlyphs">time</text>
<g transform="translate(360.75,358.80) rotate(-90)"><text x="-18.22" y="0.00" font-size="11.24" textLength="36.24" lengthAdjust="spacingAndGlyphs">energy</text></g>
<text x="644.54" y="276.76" font-size="15.12" textLength="22.61" lengthAdjust="spacingAndGlyphs">(d)</text>
<rect x="385.80" y="260.20" width="113.30" height="47.00" rx="2" fill="#fff" fill-opacity="0.8" stroke="#d0d0d0" stroke-width="0.8"/>
<circle cx="396.40" cy="266.60" r="1.15" fill="#ff00ff" stroke="#000" stroke-width="0.4"/>
<text x="410.54" y="269.60" font-size="8.66" textLength="80.18" lengthAdjust="spacingAndGlyphs">D: 0.0 , Total T1: 182</text>
<circle cx="396.40" cy="277.80" r="1.15" fill="#00e0e0" stroke="#000" stroke-width="0.4"/>
<text x="410.54" y="280.80" font-size="8.66" textLength="85.26" lengthAdjust="spacingAndGlyphs">D: 0.01 , Total T1: 158</text>
<circle cx="396.40" cy="289.10" r="1.15" fill="#00e000" stroke="#000" stroke-width="0.4"/>
<text x="410.54" y="292.10" font-size="8.66" textLength="85.19" lengthAdjust="spacingAndGlyphs">D: 0.02 , Total T1: 177</text>
<circle cx="396.40" cy="300.30" r="1.15" fill="#f0f000" stroke="#000" stroke-width="0.4"/>
<text x="410.54" y="303.30" font-size="8.66" textLength="85.10" lengthAdjust="spacingAndGlyphs">D: 0.03 , Total T1: 145</text>
<rect x="41.70" y="507.50" width="137.35" height="202.80" fill="#fff5f5"/>
<rect x="179.05" y="507.50" width="137.35" height="202.80" fill="#d8ffff"/>
<path d="M41.70 507.50V710.30M87.48 507.50V710.30M133.27 507.50V710.30M179.05 507.50V710.30M224.83 507.50V710.30M270.62 507.50V710.30M316.40 507.50V710.30M28.20 700.40H329.80M28.20 675.06H329.80M28.20 649.73H329.80M28.20 624.39H329.80M28.20 599.06H329.80M28.20 573.72H329.80M28.20 548.39H329.80M28.20 523.05H329.80" stroke="#000" stroke-opacity="0.16" stroke-width="1.0" fill="none"/>
<g fill="#ff00ff" stroke="#000" stroke-width="0.5"><circle cx="41.70" cy="555.43" r="1.3"/><circle cx="46.28" cy="555.01" r="1.3"/><circle cx="50.86" cy="554.47" r="1.3"/><circle cx="55.44" cy="553.78" r="1.3"/><circle cx="60.01" cy="552.95" r="1.3"/><circle cx="64.59" cy="552.00" r="1.3"/><circle cx="69.17" cy="550.92" r="1.3"/><circle cx="73.75" cy="549.65" r="1.3"/><circle cx="78.33" cy="548.39" r="1.3"/><circle cx="82.91" cy="547.39" r="1.3"/><circle cx="87.48" cy="546.36" r="1.3"/><circle cx="92.06" cy="544.88" r="1.3"/><circle cx="96.64" cy="543.32" r="1.3"/><circle cx="101.22" cy="542.02" r="1.3"/><circle cx="105.80" cy="540.78" r="1.3"/><circle cx="110.38" cy="539.52" r="1.3"/><circle cx="114.95" cy="538.25" r="1.3"/><circle cx="119.53" cy="537.01" r="1.3"/><circle cx="124.11" cy="535.72" r="1.3"/><circle cx="128.69" cy="534.20" r="1.3"/><circle cx="133.27" cy="532.68" r="1.3"/><circle cx="137.84" cy="531.38" r="1.3"/><circle cx="142.42" cy="530.14" r="1.3"/><circle cx="147.00" cy="528.92" r="1.3"/><circle cx="151.58" cy="527.71" r="1.3"/><circle cx="156.16" cy="526.50" r="1.3"/><circle cx="160.74" cy="525.58" r="1.3"/><circle cx="165.31" cy="525.08" r="1.3"/><circle cx="169.89" cy="524.92" r="1.3"/><circle cx="174.47" cy="524.92" r="1.3"/><circle cx="179.05" cy="524.92" r="1.3"/><circle cx="179.05" cy="528.12" r="1.3"/><circle cx="183.63" cy="537.64" r="1.3"/><circle cx="188.21" cy="543.67" r="1.3"/><circle cx="192.79" cy="551.12" r="1.3"/><circle cx="197.36" cy="560.14" r="1.3"/><circle cx="201.94" cy="568.86" r="1.3"/><circle cx="206.52" cy="576.91" r="1.3"/><circle cx="211.10" cy="582.59" r="1.3"/><circle cx="215.68" cy="587.25" r="1.3"/><circle cx="220.25" cy="590.90" r="1.3"/><circle cx="224.83" cy="593.74" r="1.3"/><circle cx="229.41" cy="596.32" r="1.3"/><circle cx="233.99" cy="598.15" r="1.3"/><circle cx="238.57" cy="599.41" r="1.3"/><circle cx="243.15" cy="600.22" r="1.3"/><circle cx="247.72" cy="600.22" r="1.3"/><circle cx="252.30" cy="600.73" r="1.3"/><circle cx="256.88" cy="602.00" r="1.3"/><circle cx="261.46" cy="603.82" r="1.3"/><circle cx="266.04" cy="605.90" r="1.3"/><circle cx="270.62" cy="606.40" r="1.3"/><circle cx="275.19" cy="607.98" r="1.3"/><circle cx="279.77" cy="609.04" r="1.3"/><circle cx="284.35" cy="610.56" r="1.3"/><circle cx="288.93" cy="611.88" r="1.3"/><circle cx="293.51" cy="612.64" r="1.3"/><circle cx="298.09" cy="613.14" r="1.3"/><circle cx="302.66" cy="612.89" r="1.3"/><circle cx="307.24" cy="612.89" r="1.3"/><circle cx="311.82" cy="612.89" r="1.3"/><circle cx="316.40" cy="613.14" r="1.3"/></g>
<g fill="#00e0e0" stroke="#000" stroke-width="0.5"><circle cx="41.70" cy="607.98" r="1.3"/><circle cx="46.28" cy="605.39" r="1.3"/><circle cx="50.86" cy="602.81" r="1.3"/><circle cx="55.44" cy="600.27" r="1.3"/><circle cx="60.01" cy="597.64" r="1.3"/><circle cx="64.59" cy="594.65" r="1.3"/><circle cx="69.17" cy="591.66" r="1.3"/><circle cx="73.75" cy="589.10" r="1.3"/><circle cx="78.33" cy="586.49" r="1.3"/><circle cx="82.91" cy="583.41" r="1.3"/><circle cx="87.48" cy="580.00" r="1.3"/><circle cx="92.06" cy="576.21" r="1.3"/><circle cx="96.64" cy="572.25" r="1.3"/><circle cx="101.22" cy="568.38" r="1.3"/><circle cx="105.80" cy="564.50" r="1.3"/><circle cx="110.38" cy="560.45" r="1.3"/><circle cx="114.95" cy="556.70" r="1.3"/><circle cx="119.53" cy="553.64" r="1.3"/><circle cx="124.11" cy="551.02" r="1.3"/><circle cx="128.69" cy="548.94" r="1.3"/><circle cx="133.27" cy="546.87" r="1.3"/><circle cx="137.84" cy="544.13" r="1.3"/><circle cx="142.42" cy="541.29" r="1.3"/><circle cx="147.00" cy="538.89" r="1.3"/><circle cx="151.58" cy="536.53" r="1.3"/><circle cx="156.16" cy="533.94" r="1.3"/><circle cx="160.74" cy="531.61" r="1.3"/><circle cx="165.31" cy="529.38" r="1.3"/><circle cx="169.89" cy="527.41" r="1.3"/><circle cx="174.47" cy="526.60" r="1.3"/><circle cx="179.05" cy="526.09" r="1.3"/><circle cx="179.05" cy="530.65" r="1.3"/><circle cx="183.63" cy="543.01" r="1.3"/><circle cx="188.21" cy="553.76" r="1.3"/><circle cx="192.79" cy="565.56" r="1.3"/><circle cx="197.36" cy="574.38" r="1.3"/><circle cx="201.94" cy="582.28" r="1.3"/><circle cx="206.52" cy="589.99" r="1.3"/><circle cx="211.10" cy="596.22" r="1.3"/><circle cx="215.68" cy="599.72" r="1.3"/><circle cx="220.25" cy="602.91" r="1.3"/><circle cx="224.83" cy="605.39" r="1.3"/><circle cx="229.41" cy="607.82" r="1.3"/><circle cx="233.99" cy="609.50" r="1.3"/><circle cx="238.57" cy="611.78" r="1.3"/><circle cx="243.15" cy="614.21" r="1.3"/><circle cx="247.72" cy="615.63" r="1.3"/><circle cx="252.30" cy="617.40" r="1.3"/><circle cx="256.88" cy="620.14" r="1.3"/><circle cx="261.46" cy="621.45" r="1.3"/><circle cx="266.04" cy="622.72" r="1.3"/><circle cx="270.62" cy="624.04" r="1.3"/><circle cx="275.19" cy="625.30" r="1.3"/><circle cx="279.77" cy="626.12" r="1.3"/><circle cx="284.35" cy="627.13" r="1.3"/><circle cx="288.93" cy="627.94" r="1.3"/><circle cx="293.51" cy="628.45" r="1.3"/><circle cx="298.09" cy="629.21" r="1.3"/><circle cx="302.66" cy="630.52" r="1.3"/><circle cx="307.24" cy="631.79" r="1.3"/><circle cx="311.82" cy="632.55" r="1.3"/><circle cx="316.40" cy="634.38" r="1.3"/></g>
<g fill="#00e000" stroke="#000" stroke-width="0.5"><circle cx="41.70" cy="645.27" r="1.3"/><circle cx="46.28" cy="643.56" r="1.3"/><circle cx="50.86" cy="641.62" r="1.3"/><circle cx="55.44" cy="639.36" r="1.3"/><circle cx="60.01" cy="636.96" r="1.3"/><circle cx="64.59" cy="634.71" r="1.3"/><circle cx="69.17" cy="632.30" r="1.3"/><circle cx="73.75" cy="629.30" r="1.3"/><circle cx="78.33" cy="626.12" r="1.3"/><circle cx="82.91" cy="623.11" r="1.3"/><circle cx="87.48" cy="620.14" r="1.3"/><circle cx="92.06" cy="617.06" r="1.3"/><circle cx="96.64" cy="614.21" r="1.3"/><circle cx="101.22" cy="612.05" r="1.3"/><circle cx="105.80" cy="609.80" r="1.3"/><circle cx="110.38" cy="606.69" r="1.3"/><circle cx="114.95" cy="602.81" r="1.3"/><circle cx="119.53" cy="597.65" r="1.3"/><circle cx="124.11" cy="591.91" r="1.3"/><circle cx="128.69" cy="586.49" r="1.3"/><circle cx="133.27" cy="580.82" r="1.3"/><circle cx="137.84" cy="573.52" r="1.3"/><circle cx="142.42" cy="566.27" r="1.3"/><circle cx="147.00" cy="560.60" r="1.3"/><circle cx="151.58" cy="554.36" r="1.3"/><circle cx="156.16" cy="549.25" r="1.3"/><circle cx="160.74" cy="543.98" r="1.3"/><circle cx="165.31" cy="539.67" r="1.3"/><circle cx="169.89" cy="536.73" r="1.3"/><circle cx="174.47" cy="533.94" r="1.3"/><circle cx="179.05" cy="533.18" r="1.3"/><circle cx="179.05" cy="535.72" r="1.3"/><circle cx="183.63" cy="551.88" r="1.3"/><circle cx="188.21" cy="565.06" r="1.3"/><circle cx="192.79" cy="579.50" r="1.3"/><circle cx="197.36" cy="589.43" r="1.3"/><circle cx="201.94" cy="596.22" r="1.3"/><circle cx="206.52" cy="601.29" r="1.3"/><circle cx="211.10" cy="605.39" r="1.3"/><circle cx="215.68" cy="609.60" r="1.3"/><circle cx="220.25" cy="612.49" r="1.3"/><circle cx="224.83" cy="615.27" r="1.3"/><circle cx="229.41" cy="618.21" r="1.3"/><circle cx="233.99" cy="621.30" r="1.3"/><circle cx="238.57" cy="625.30" r="1.3"/><circle cx="243.15" cy="628.80" r="1.3"/><circle cx="247.72" cy="631.79" r="1.3"/><circle cx="252.30" cy="634.17" r="1.3"/><circle cx="256.88" cy="636.71" r="1.3"/><circle cx="261.46" cy="639.09" r="1.3"/><circle cx="266.04" cy="641.72" r="1.3"/><circle cx="270.62" cy="644.31" r="1.3"/><circle cx="275.19" cy="646.69" r="1.3"/><circle cx="279.77" cy="648.51" r="1.3"/><circle cx="284.35" cy="650.18" r="1.3"/><circle cx="288.93" cy="651.70" r="1.3"/><circle cx="293.51" cy="653.48" r="1.3"/><circle cx="298.09" cy="655.20" r="1.3"/><circle cx="302.66" cy="657.48" r="1.3"/><circle cx="307.24" cy="659.20" r="1.3"/><circle cx="311.82" cy="661.79" r="1.3"/><circle cx="316.40" cy="664.68" r="1.3"/></g>
<g fill="#f0f000" stroke="#000" stroke-width="0.5"><circle cx="41.70" cy="683.07" r="1.3"/><circle cx="46.28" cy="679.94" r="1.3"/><circle cx="50.86" cy="677.09" r="1.3"/><circle cx="55.44" cy="674.56" r="1.3"/><circle cx="60.01" cy="672.73" r="1.3"/><circle cx="64.59" cy="668.58" r="1.3"/><circle cx="69.17" cy="664.17" r="1.3"/><circle cx="73.75" cy="659.00" r="1.3"/><circle cx="78.33" cy="653.28" r="1.3"/><circle cx="82.91" cy="647.85" r="1.3"/><circle cx="87.48" cy="642.69" r="1.3"/><circle cx="92.06" cy="637.77" r="1.3"/><circle cx="96.64" cy="633.11" r="1.3"/><circle cx="101.22" cy="628.70" r="1.3"/><circle cx="105.80" cy="624.54" r="1.3"/><circle cx="110.38" cy="619.38" r="1.3"/><circle cx="114.95" cy="613.70" r="1.3"/><circle cx="119.53" cy="607.22" r="1.3"/><circle cx="124.11" cy="600.22" r="1.3"/><circle cx="128.69" cy="592.98" r="1.3"/><circle cx="133.27" cy="586.49" r="1.3"/><circle cx="137.84" cy="579.50" r="1.3"/><circle cx="142.42" cy="571.75" r="1.3"/><circle cx="147.00" cy="564.50" r="1.3"/><circle cx="151.58" cy="558.37" r="1.3"/><circle cx="156.16" cy="552.69" r="1.3"/><circle cx="160.74" cy="547.42" r="1.3"/><circle cx="165.31" cy="541.65" r="1.3"/><circle cx="169.89" cy="534.20" r="1.3"/><circle cx="174.47" cy="528.98" r="1.3"/><circle cx="179.05" cy="526.75" r="1.3"/><circle cx="179.05" cy="533.18" r="1.3"/><circle cx="183.63" cy="549.25" r="1.3"/><circle cx="188.21" cy="568.50" r="1.3"/><circle cx="192.79" cy="583.15" r="1.3"/><circle cx="197.36" cy="593.79" r="1.3"/><circle cx="201.94" cy="602.00" r="1.3"/><circle cx="206.52" cy="607.42" r="1.3"/><circle cx="211.10" cy="613.40" r="1.3"/><circle cx="215.68" cy="620.85" r="1.3"/><circle cx="220.25" cy="626.42" r="1.3"/><circle cx="224.83" cy="630.98" r="1.3"/><circle cx="229.41" cy="635.29" r="1.3"/><circle cx="233.99" cy="639.34" r="1.3"/><circle cx="238.57" cy="643.39" r="1.3"/><circle cx="243.15" cy="648.21" r="1.3"/><circle cx="247.72" cy="652.62" r="1.3"/><circle cx="252.30" cy="657.23" r="1.3"/><circle cx="256.88" cy="660.52" r="1.3"/><circle cx="261.46" cy="663.41" r="1.3"/><circle cx="266.04" cy="666.60" r="1.3"/><circle cx="270.62" cy="669.90" r="1.3"/><circle cx="275.19" cy="672.58" r="1.3"/><circle cx="279.77" cy="674.91" r="1.3"/><circle cx="284.35" cy="677.60" r="1.3"/><circle cx="288.93" cy="679.83" r="1.3"/><circle cx="293.51" cy="682.41" r="1.3"/><circle cx="298.09" cy="685.71" r="1.3"/><circle cx="302.66" cy="688.09" r="1.3"/><circle cx="307.24" cy="689.61" r="1.3"/><circle cx="311.82" cy="690.98" r="1.3"/><circle cx="316.40" cy="692.29" r="1.3"/></g>
<g fill="#7a7a7a" stroke="#000" stroke-width="0.5"><circle cx="41.70" cy="683.58" r="1.3"/><circle cx="46.28" cy="681.72" r="1.3"/><circle cx="50.86" cy="679.73" r="1.3"/><circle cx="55.44" cy="677.69" r="1.3"/><circle cx="60.01" cy="675.32" r="1.3"/><circle cx="64.59" cy="671.92" r="1.3"/><circle cx="69.17" cy="670.50" r="1.3"/><circle cx="73.75" cy="668.89" r="1.3"/><circle cx="78.33" cy="666.75" r="1.3"/><circle cx="82.91" cy="662.85" r="1.3"/><circle cx="87.48" cy="658.44" r="1.3"/><circle cx="92.06" cy="654.59" r="1.3"/><circle cx="96.64" cy="650.44" r="1.3"/><circle cx="101.22" cy="646.54" r="1.3"/><circle cx="105.80" cy="642.18" r="1.3"/><circle cx="110.38" cy="636.96" r="1.3"/><circle cx="114.95" cy="631.28" r="1.3"/><circle cx="119.53" cy="626.62" r="1.3"/><circle cx="124.11" cy="621.96" r="1.3"/><circle cx="128.69" cy="616.79" r="1.3"/><circle cx="133.27" cy="609.80" r="1.3"/><circle cx="137.84" cy="601.49" r="1.3"/><circle cx="142.42" cy="593.48" r="1.3"/><circle cx="147.00" cy="584.67" r="1.3"/><circle cx="151.58" cy="576.71" r="1.3"/><circle cx="156.16" cy="566.93" r="1.3"/><circle cx="160.74" cy="557.46" r="1.3"/><circle cx="165.31" cy="549.91" r="1.3"/><circle cx="169.89" cy="541.65" r="1.3"/><circle cx="174.47" cy="535.62" r="1.3"/><circle cx="179.05" cy="532.53" r="1.3"/><circle cx="179.05" cy="542.31" r="1.3"/><circle cx="183.63" cy="558.52" r="1.3"/><circle cx="188.21" cy="574.18" r="1.3"/><circle cx="192.79" cy="589.07" r="1.3"/><circle cx="197.36" cy="598.15" r="1.3"/><circle cx="201.94" cy="606.40" r="1.3"/><circle cx="206.52" cy="613.14" r="1.3"/><circle cx="211.10" cy="617.30" r="1.3"/><circle cx="215.68" cy="620.95" r="1.3"/><circle cx="220.25" cy="626.62" r="1.3"/><circle cx="224.83" cy="631.28" r="1.3"/><circle cx="229.41" cy="635.69" r="1.3"/><circle cx="233.99" cy="640.10" r="1.3"/><circle cx="238.57" cy="643.45" r="1.3"/><circle cx="243.15" cy="647.85" r="1.3"/><circle cx="247.72" cy="651.25" r="1.3"/><circle cx="252.30" cy="653.02" r="1.3"/><circle cx="256.88" cy="656.42" r="1.3"/><circle cx="261.46" cy="659.76" r="1.3"/><circle cx="266.04" cy="664.17" r="1.3"/><circle cx="270.62" cy="666.75" r="1.3"/><circle cx="275.19" cy="669.34" r="1.3"/><circle cx="279.77" cy="672.73" r="1.3"/><circle cx="284.35" cy="675.82" r="1.3"/><circle cx="288.93" cy="677.90" r="1.3"/><circle cx="293.51" cy="679.73" r="1.3"/><circle cx="298.09" cy="680.99" r="1.3"/><circle cx="302.66" cy="682.31" r="1.3"/><circle cx="307.24" cy="683.58" r="1.3"/><circle cx="311.82" cy="685.65" r="1.3"/><circle cx="316.40" cy="686.16" r="1.3"/></g>
<g fill="#ff0000" stroke="#000" stroke-width="0.5"><circle cx="41.70" cy="678.92" r="1.3"/><circle cx="46.28" cy="678.35" r="1.3"/><circle cx="50.86" cy="677.65" r="1.3"/><circle cx="55.44" cy="676.79" r="1.3"/><circle cx="60.01" cy="675.82" r="1.3"/><circle cx="64.59" cy="674.83" r="1.3"/><circle cx="69.17" cy="673.75" r="1.3"/><circle cx="73.75" cy="672.52" r="1.3"/><circle cx="78.33" cy="671.16" r="1.3"/><circle cx="82.91" cy="669.75" r="1.3"/><circle cx="87.48" cy="668.07" r="1.3"/><circle cx="92.06" cy="665.70" r="1.3"/><circle cx="96.64" cy="662.85" r="1.3"/><circle cx="101.22" cy="659.83" r="1.3"/><circle cx="105.80" cy="656.42" r="1.3"/><circle cx="110.38" cy="652.42" r="1.3"/><circle cx="114.95" cy="647.85" r="1.3"/><circle cx="119.53" cy="642.53" r="1.3"/><circle cx="124.11" cy="636.96" r="1.3"/><circle cx="128.69" cy="631.79" r="1.3"/><circle cx="133.27" cy="626.62" r="1.3"/><circle cx="137.84" cy="618.87" r="1.3"/><circle cx="142.42" cy="608.48" r="1.3"/><circle cx="147.00" cy="598.15" r="1.3"/><circle cx="151.58" cy="588.31" r="1.3"/><circle cx="156.16" cy="577.62" r="1.3"/><circle cx="160.74" cy="565.06" r="1.3"/><circle cx="165.31" cy="549.91" r="1.3"/><circle cx="169.89" cy="538.25" r="1.3"/><circle cx="174.47" cy="529.94" r="1.3"/><circle cx="179.05" cy="525.08" r="1.3"/><circle cx="179.05" cy="539.06" r="1.3"/><circle cx="183.63" cy="555.99" r="1.3"/><circle cx="188.21" cy="576.25" r="1.3"/><circle cx="192.79" cy="590.39" r="1.3"/><circle cx="197.36" cy="598.65" r="1.3"/><circle cx="201.94" cy="605.39" r="1.3"/><circle cx="206.52" cy="611.62" r="1.3"/><circle cx="211.10" cy="618.87" r="1.3"/><circle cx="215.68" cy="625.30" r="1.3"/><circle cx="220.25" cy="631.28" r="1.3"/><circle cx="224.83" cy="636.96" r="1.3"/><circle cx="229.41" cy="642.94" r="1.3"/><circle cx="233.99" cy="648.31" r="1.3"/><circle cx="238.57" cy="652.62" r="1.3"/><circle cx="243.15" cy="657.23" r="1.3"/><circle cx="247.72" cy="660.72" r="1.3"/><circle cx="252.30" cy="664.02" r="1.3"/><circle cx="256.88" cy="666.91" r="1.3"/><circle cx="261.46" cy="669.49" r="1.3"/><circle cx="266.04" cy="672.18" r="1.3"/><circle cx="270.62" cy="673.90" r="1.3"/><circle cx="275.19" cy="675.82" r="1.3"/><circle cx="279.77" cy="677.80" r="1.3"/><circle cx="284.35" cy="679.78" r="1.3"/><circle cx="288.93" cy="681.09" r="1.3"/><circle cx="293.51" cy="682.82" r="1.3"/><circle cx="298.09" cy="684.39" r="1.3"/><circle cx="302.66" cy="685.05" r="1.3"/><circle cx="307.24" cy="685.30" r="1.3"/><circle cx="311.82" cy="685.40" r="1.3"/><circle cx="316.40" cy="686.01" r="1.3"/></g>
<g fill="#0000e0" stroke="#000" stroke-width="0.5"><circle cx="41.70" cy="694.32" r="1.3"/><circle cx="46.28" cy="694.98" r="1.3"/><circle cx="50.86" cy="695.64" r="1.3"/><circle cx="55.44" cy="695.33" r="1.3"/><circle cx="60.01" cy="694.02" r="1.3"/><circle cx="64.59" cy="692.70" r="1.3"/><circle cx="69.17" cy="691.68" r="1.3"/><circle cx="73.75" cy="689.61" r="1.3"/><circle cx="78.33" cy="688.09" r="1.3"/><circle cx="82.91" cy="685.40" r="1.3"/><circle cx="87.48" cy="684.89" r="1.3"/><circle cx="92.06" cy="682.31" r="1.3"/><circle cx="96.64" cy="679.73" r="1.3"/><circle cx="101.22" cy="677.09" r="1.3"/><circle cx="105.80" cy="673.24" r="1.3"/><circle cx="110.38" cy="668.07" r="1.3"/><circle cx="114.95" cy="662.35" r="1.3"/><circle cx="119.53" cy="655.10" r="1.3"/><circle cx="124.11" cy="648.61" r="1.3"/><circle cx="128.69" cy="643.45" r="1.3"/><circle cx="133.27" cy="636.96" r="1.3"/><circle cx="137.84" cy="631.03" r="1.3"/><circle cx="142.42" cy="624.54" r="1.3"/><circle cx="147.00" cy="615.47" r="1.3"/><circle cx="151.58" cy="604.63" r="1.3"/><circle cx="156.16" cy="590.39" r="1.3"/><circle cx="160.74" cy="573.62" r="1.3"/><circle cx="165.31" cy="555.13" r="1.3"/><circle cx="169.89" cy="539.52" r="1.3"/><circle cx="174.47" cy="526.50" r="1.3"/><circle cx="179.05" cy="520.47" r="1.3"/><circle cx="179.05" cy="536.43" r="1.3"/><circle cx="183.63" cy="557.15" r="1.3"/><circle cx="188.21" cy="577.62" r="1.3"/><circle cx="192.79" cy="590.39" r="1.3"/><circle cx="197.36" cy="602.05" r="1.3"/><circle cx="201.94" cy="610.56" r="1.3"/><circle cx="206.52" cy="617.55" r="1.3"/><circle cx="211.10" cy="623.53" r="1.3"/><circle cx="215.68" cy="629.71" r="1.3"/><circle cx="220.25" cy="635.69" r="1.3"/><circle cx="224.83" cy="642.18" r="1.3"/><circle cx="229.41" cy="648.61" r="1.3"/><circle cx="233.99" cy="653.22" r="1.3"/><circle cx="238.57" cy="657.79" r="1.3"/><circle cx="243.15" cy="662.30" r="1.3"/><circle cx="247.72" cy="666.40" r="1.3"/><circle cx="252.30" cy="669.90" r="1.3"/><circle cx="256.88" cy="672.58" r="1.3"/><circle cx="261.46" cy="674.91" r="1.3"/><circle cx="266.04" cy="677.40" r="1.3"/><circle cx="270.62" cy="680.08" r="1.3"/><circle cx="275.19" cy="682.72" r="1.3"/><circle cx="279.77" cy="685.30" r="1.3"/><circle cx="284.35" cy="687.88" r="1.3"/><circle cx="288.93" cy="689.61" r="1.3"/><circle cx="293.51" cy="690.98" r="1.3"/><circle cx="298.09" cy="690.98" r="1.3"/><circle cx="302.66" cy="690.72" r="1.3"/><circle cx="307.24" cy="691.23" r="1.3"/><circle cx="311.82" cy="691.38" r="1.3"/><circle cx="316.40" cy="691.99" r="1.3"/></g>
<path d="M28.20 507.50H329.80V710.30" fill="none" stroke="#a6a6a6" stroke-width="1.15"/>
<path d="M28.20 507.50V710.30H329.80" fill="none" stroke="#5e5e5e" stroke-width="1"/>
<path d="M41.70 710.30v1.6M87.48 710.30v1.6M133.27 710.30v1.6M179.05 710.30v1.6M224.83 710.30v1.6M270.62 710.30v1.6M316.40 710.30v1.6M28.20 700.40h-1.6M28.20 675.06h-1.6M28.20 649.73h-1.6M28.20 624.39h-1.6M28.20 599.06h-1.6M28.20 573.72h-1.6M28.20 548.39h-1.6M28.20 523.05h-1.6" stroke="#5e5e5e" stroke-width="0.8" fill="none"/>
<text x="34.59" y="720.30" font-size="9.66" textLength="14.01" lengthAdjust="spacingAndGlyphs">-30</text>
<text x="80.38" y="720.30" font-size="9.66" textLength="14.01" lengthAdjust="spacingAndGlyphs">-20</text>
<text x="126.16" y="720.30" font-size="9.66" textLength="14.01" lengthAdjust="spacingAndGlyphs">-10</text>
<text x="167.65" y="720.30" font-size="9.66" textLength="22.86" lengthAdjust="spacingAndGlyphs">0(T1)</text>
<text x="219.54" y="720.30" font-size="9.66" textLength="10.65" lengthAdjust="spacingAndGlyphs">10</text>
<text x="265.23" y="720.30" font-size="9.66" textLength="10.74" lengthAdjust="spacingAndGlyphs">20</text>
<text x="311.16" y="720.30" font-size="9.66" textLength="10.59" lengthAdjust="spacingAndGlyphs">30</text>
<text x="11.46" y="704.30" font-size="9.66" textLength="13.23" lengthAdjust="spacingAndGlyphs">1.5</text>
<text x="11.36" y="678.96" font-size="9.66" textLength="13.49" lengthAdjust="spacingAndGlyphs">2.0</text>
<text x="11.37" y="653.63" font-size="9.66" textLength="13.33" lengthAdjust="spacingAndGlyphs">2.5</text>
<text x="11.51" y="628.29" font-size="9.66" textLength="13.34" lengthAdjust="spacingAndGlyphs">3.0</text>
<text x="11.51" y="602.96" font-size="9.66" textLength="13.18" lengthAdjust="spacingAndGlyphs">3.5</text>
<text x="11.43" y="577.62" font-size="9.66" textLength="13.41" lengthAdjust="spacingAndGlyphs">4.0</text>
<text x="11.43" y="552.29" font-size="9.66" textLength="13.26" lengthAdjust="spacingAndGlyphs">4.5</text>
<text x="11.50" y="526.95" font-size="9.66" textLength="13.34" lengthAdjust="spacingAndGlyphs">5.0</text>
<text x="167.24" y="731.80" font-size="11.24" textLength="23.63" lengthAdjust="spacingAndGlyphs">time</text>
<g transform="translate(6.85,609.90) rotate(-90)"><text x="-18.22" y="0.00" font-size="11.24" textLength="36.24" lengthAdjust="spacingAndGlyphs">energy</text></g>
<text x="205.54" y="532.88" font-size="15.01" textLength="22.61" lengthAdjust="spacingAndGlyphs">(e)</text>
<rect x="228.70" y="511.40" width="97.90" height="72.50" rx="2" fill="#fff" fill-opacity="0.8" stroke="#d0d0d0" stroke-width="0.8"/>
<circle cx="238.10" cy="516.80" r="1.15" fill="#ff00ff" stroke="#000" stroke-width="0.4"/>
<text x="250.20" y="519.80" font-size="8.66" textLength="64.92" lengthAdjust="spacingAndGlyphs"><tspan font-style="italic">v</tspan><tspan font-size="5.63" dy="1.6">0</tspan><tspan dy="-1.6">: 0.1 , Total T1: 8</tspan></text>
<circle cx="238.10" cy="526.90" r="1.15" fill="#00e0e0" stroke="#000" stroke-width="0.4"/>
<text x="250.20" y="529.90" font-size="8.66" textLength="69.22" lengthAdjust="spacingAndGlyphs"><tspan font-style="italic">v</tspan><tspan font-size="5.63" dy="1.6">0</tspan><tspan dy="-1.6">: 0.2 , Total T1: 27</tspan></text>
<circle cx="238.10" cy="537.30" r="1.15" fill="#00e000" stroke="#000" stroke-width="0.4"/>
<text x="250.20" y="540.30" font-size="8.66" textLength="69.22" lengthAdjust="spacingAndGlyphs"><tspan font-style="italic">v</tspan><tspan font-size="5.63" dy="1.6">0</tspan><tspan dy="-1.6">: 0.3 , Total T1: 72</tspan></text>
<circle cx="238.10" cy="547.50" r="1.15" fill="#f0f000" stroke="#000" stroke-width="0.4"/>
<text x="250.20" y="550.50" font-size="8.66" textLength="69.22" lengthAdjust="spacingAndGlyphs"><tspan font-style="italic">v</tspan><tspan font-size="5.63" dy="1.6">0</tspan><tspan dy="-1.6">: 0.4 , Total T1: 98</tspan></text>
<circle cx="238.10" cy="557.60" r="1.15" fill="#7a7a7a" stroke="#000" stroke-width="0.4"/>
<text x="250.20" y="560.60" font-size="8.66" textLength="73.51" lengthAdjust="spacingAndGlyphs"><tspan font-style="italic">v</tspan><tspan font-size="5.63" dy="1.6">0</tspan><tspan dy="-1.6">: 0.5 , Total T1: 158</tspan></text>
<circle cx="238.10" cy="568.00" r="1.15" fill="#ff0000" stroke="#000" stroke-width="0.4"/>
<text x="250.20" y="571.00" font-size="8.66" textLength="73.51" lengthAdjust="spacingAndGlyphs"><tspan font-style="italic">v</tspan><tspan font-size="5.63" dy="1.6">0</tspan><tspan dy="-1.6">: 0.6 , Total T1: 268</tspan></text>
<circle cx="238.10" cy="578.10" r="1.15" fill="#0000e0" stroke="#000" stroke-width="0.4"/>
<text x="250.20" y="581.10" font-size="8.66" textLength="73.51" lengthAdjust="spacingAndGlyphs"><tspan font-style="italic">v</tspan><tspan font-size="5.63" dy="1.6">0</tspan><tspan dy="-1.6">: 0.7 , Total T1: 266</tspan></text>
<rect x="394.80" y="507.50" width="137.60" height="203.70" fill="#fff5f5"/>
<rect x="532.40" y="507.50" width="137.60" height="203.70" fill="#d8ffff"/>
<path d="M394.80 507.50V711.20M440.67 507.50V711.20M486.53 507.50V711.20M532.40 507.50V711.20M578.27 507.50V711.20M624.13 507.50V711.20M670.00 507.50V711.20M381.50 701.20H683.40M381.50 675.75H683.40M381.50 650.30H683.40M381.50 624.85H683.40M381.50 599.40H683.40M381.50 573.95H683.40M381.50 548.50H683.40M381.50 523.05H683.40" stroke="#000" stroke-opacity="0.16" stroke-width="1.0" fill="none"/>
<g fill="#00e000" stroke="#000" stroke-width="0.5"><circle cx="394.80" cy="683.94" r="1.3"/><circle cx="399.39" cy="681.35" r="1.3"/><circle cx="403.97" cy="680.08" r="1.3"/><circle cx="408.56" cy="677.99" r="1.3"/><circle cx="413.15" cy="675.90" r="1.3"/><circle cx="417.73" cy="673.61" r="1.3"/><circle cx="422.32" cy="671.53" r="1.3"/><circle cx="426.91" cy="668.93" r="1.3"/><circle cx="431.49" cy="665.88" r="1.3"/><circle cx="436.08" cy="662.52" r="1.3"/><circle cx="440.67" cy="658.90" r="1.3"/><circle cx="445.25" cy="654.78" r="1.3"/><circle cx="449.84" cy="650.86" r="1.3"/><circle cx="454.43" cy="646.48" r="1.3"/><circle cx="459.01" cy="642.36" r="1.3"/><circle cx="463.60" cy="636.66" r="1.3"/><circle cx="468.19" cy="631.52" r="1.3"/><circle cx="472.77" cy="626.89" r="1.3"/><circle cx="477.36" cy="621.69" r="1.3"/><circle cx="481.95" cy="615.99" r="1.3"/><circle cx="486.53" cy="609.58" r="1.3"/><circle cx="491.12" cy="601.28" r="1.3"/><circle cx="495.71" cy="593.29" r="1.3"/><circle cx="500.29" cy="584.54" r="1.3"/><circle cx="504.88" cy="576.24" r="1.3"/><circle cx="509.47" cy="566.42" r="1.3"/><circle cx="514.05" cy="557.41" r="1.3"/><circle cx="518.64" cy="548.86" r="1.3"/><circle cx="523.23" cy="541.12" r="1.3"/><circle cx="527.81" cy="535.47" r="1.3"/><circle cx="532.40" cy="532.62" r="1.3"/><circle cx="532.40" cy="542.39" r="1.3"/><circle cx="536.99" cy="557.15" r="1.3"/><circle cx="541.57" cy="574.20" r="1.3"/><circle cx="546.16" cy="587.59" r="1.3"/><circle cx="550.75" cy="597.41" r="1.3"/><circle cx="555.33" cy="604.39" r="1.3"/><circle cx="559.92" cy="610.34" r="1.3"/><circle cx="564.51" cy="615.99" r="1.3"/><circle cx="569.09" cy="621.19" r="1.3"/><circle cx="573.68" cy="626.33" r="1.3"/><circle cx="578.27" cy="631.01" r="1.3"/><circle cx="582.85" cy="635.90" r="1.3"/><circle cx="587.44" cy="640.53" r="1.3"/><circle cx="592.03" cy="643.89" r="1.3"/><circle cx="596.61" cy="647.50" r="1.3"/><circle cx="601.20" cy="650.10" r="1.3"/><circle cx="605.79" cy="652.95" r="1.3"/><circle cx="610.37" cy="656.05" r="1.3"/><circle cx="614.96" cy="659.92" r="1.3"/><circle cx="619.55" cy="663.79" r="1.3"/><circle cx="624.13" cy="666.89" r="1.3"/><circle cx="628.72" cy="670.25" r="1.3"/><circle cx="633.31" cy="673.36" r="1.3"/><circle cx="637.89" cy="675.44" r="1.3"/><circle cx="642.48" cy="677.48" r="1.3"/><circle cx="647.07" cy="679.57" r="1.3"/><circle cx="651.65" cy="681.09" r="1.3"/><circle cx="656.24" cy="683.18" r="1.3"/><circle cx="660.83" cy="685.22" r="1.3"/><circle cx="665.41" cy="686.54" r="1.3"/><circle cx="670.00" cy="688.32" r="1.3"/></g>
<g fill="#f0f000" stroke="#000" stroke-width="0.5"><circle cx="394.80" cy="641.09" r="1.3"/><circle cx="399.39" cy="637.22" r="1.3"/><circle cx="403.97" cy="632.79" r="1.3"/><circle cx="408.56" cy="630.25" r="1.3"/><circle cx="413.15" cy="631.01" r="1.3"/><circle cx="417.73" cy="632.28" r="1.3"/><circle cx="422.32" cy="633.35" r="1.3"/><circle cx="426.91" cy="635.90" r="1.3"/><circle cx="431.49" cy="637.22" r="1.3"/><circle cx="436.08" cy="637.47" r="1.3"/><circle cx="440.67" cy="637.22" r="1.3"/><circle cx="445.25" cy="636.96" r="1.3"/><circle cx="449.84" cy="636.96" r="1.3"/><circle cx="454.43" cy="636.66" r="1.3"/><circle cx="459.01" cy="636.15" r="1.3"/><circle cx="463.60" cy="634.62" r="1.3"/><circle cx="468.19" cy="632.03" r="1.3"/><circle cx="472.77" cy="630.25" r="1.3"/><circle cx="477.36" cy="627.65" r="1.3"/><circle cx="481.95" cy="625.05" r="1.3"/><circle cx="486.53" cy="621.95" r="1.3"/><circle cx="491.12" cy="618.59" r="1.3"/><circle cx="495.71" cy="614.72" r="1.3"/><circle cx="500.29" cy="610.34" r="1.3"/><circle cx="504.88" cy="604.39" r="1.3"/><circle cx="509.47" cy="597.41" r="1.3"/><circle cx="514.05" cy="589.68" r="1.3"/><circle cx="518.64" cy="579.35" r="1.3"/><circle cx="523.23" cy="565.65" r="1.3"/><circle cx="527.81" cy="551.96" r="1.3"/><circle cx="532.40" cy="541.12" r="1.3"/><circle cx="532.40" cy="553.54" r="1.3"/><circle cx="536.99" cy="569.01" r="1.3"/><circle cx="541.57" cy="579.35" r="1.3"/><circle cx="546.16" cy="586.32" r="1.3"/><circle cx="550.75" cy="592.27" r="1.3"/><circle cx="555.33" cy="597.92" r="1.3"/><circle cx="559.92" cy="604.39" r="1.3"/><circle cx="564.51" cy="609.58" r="1.3"/><circle cx="569.09" cy="614.72" r="1.3"/><circle cx="573.68" cy="619.10" r="1.3"/><circle cx="578.27" cy="622.46" r="1.3"/><circle cx="582.85" cy="625.56" r="1.3"/><circle cx="587.44" cy="628.41" r="1.3"/><circle cx="592.03" cy="631.52" r="1.3"/><circle cx="596.61" cy="633.60" r="1.3"/><circle cx="601.20" cy="634.11" r="1.3"/><circle cx="605.79" cy="634.88" r="1.3"/><circle cx="610.37" cy="635.39" r="1.3"/><circle cx="614.96" cy="637.22" r="1.3"/><circle cx="619.55" cy="639.25" r="1.3"/><circle cx="624.13" cy="640.02" r="1.3"/><circle cx="628.72" cy="640.27" r="1.3"/><circle cx="633.31" cy="641.09" r="1.3"/><circle cx="637.89" cy="642.61" r="1.3"/><circle cx="642.48" cy="641.09" r="1.3"/><circle cx="647.07" cy="638.49" r="1.3"/><circle cx="651.65" cy="635.90" r="1.3"/><circle cx="656.24" cy="634.88" r="1.3"/><circle cx="660.83" cy="634.88" r="1.3"/><circle cx="665.41" cy="634.62" r="1.3"/><circle cx="670.00" cy="634.37" r="1.3"/></g>
<path d="M381.50 507.50H683.40V711.20" fill="none" stroke="#a6a6a6" stroke-width="1.15"/>
<path d="M381.50 507.50V711.20H683.40" fill="none" stroke="#5e5e5e" stroke-width="1"/>
<path d="M394.80 711.20v1.6M440.67 711.20v1.6M486.53 711.20v1.6M532.40 711.20v1.6M578.27 711.20v1.6M624.13 711.20v1.6M670.00 711.20v1.6M381.50 701.20h-1.6M381.50 675.75h-1.6M381.50 650.30h-1.6M381.50 624.85h-1.6M381.50 599.40h-1.6M381.50 573.95h-1.6M381.50 548.50h-1.6M381.50 523.05h-1.6" stroke="#5e5e5e" stroke-width="0.8" fill="none"/>
<text x="387.69" y="721.20" font-size="9.66" textLength="14.01" lengthAdjust="spacingAndGlyphs">-30</text>
<text x="433.56" y="721.20" font-size="9.66" textLength="14.01" lengthAdjust="spacingAndGlyphs">-20</text>
<text x="479.43" y="721.20" font-size="9.66" textLength="14.01" lengthAdjust="spacingAndGlyphs">-10</text>
<text x="521.00" y="721.20" font-size="9.66" textLength="22.86" lengthAdjust="spacingAndGlyphs">0(T1)</text>
<text x="572.97" y="721.20" font-size="9.66" textLength="10.65" lengthAdjust="spacingAndGlyphs">10</text>
<text x="618.75" y="721.20" font-size="9.66" textLength="10.74" lengthAdjust="spacingAndGlyphs">20</text>
<text x="664.76" y="721.20" font-size="9.66" textLength="10.59" lengthAdjust="spacingAndGlyphs">30</text>
<text x="364.76" y="705.10" font-size="9.66" textLength="13.23" lengthAdjust="spacingAndGlyphs">1.5</text>
<text x="364.66" y="679.65" font-size="9.66" textLength="13.49" lengthAdjust="spacingAndGlyphs">2.0</text>
<text x="364.67" y="654.20" font-size="9.66" textLength="13.33" lengthAdjust="spacingAndGlyphs">2.5</text>
<text x="364.81" y="628.75" font-size="9.66" textLength="13.34" lengthAdjust="spacingAndGlyphs">3.0</text>
<text x="364.81" y="603.30" font-size="9.66" textLength="13.18" lengthAdjust="spacingAndGlyphs">3.5</text>
<text x="364.73" y="577.85" font-size="9.66" textLength="13.41" lengthAdjust="spacingAndGlyphs">4.0</text>
<text x="364.73" y="552.40" font-size="9.66" textLength="13.26" lengthAdjust="spacingAndGlyphs">4.5</text>
<text x="364.80" y="526.95" font-size="9.66" textLength="13.34" lengthAdjust="spacingAndGlyphs">5.0</text>
<text x="520.69" y="732.70" font-size="11.24" textLength="23.63" lengthAdjust="spacingAndGlyphs">time</text>
<g transform="translate(360.55,610.00) rotate(-90)"><text x="-18.22" y="0.00" font-size="11.24" textLength="36.24" lengthAdjust="spacingAndGlyphs">energy</text></g>
<text x="645.32" y="526.27" font-size="15.55" textLength="19.28" lengthAdjust="spacingAndGlyphs">(f)</text>
<rect x="385.00" y="511.60" width="128.00" height="23.00" rx="2" fill="#fff" fill-opacity="0.8" stroke="#d0d0d0" stroke-width="0.8"/>
<circle cx="395.60" cy="517.60" r="1.15" fill="#00e000" stroke="#000" stroke-width="0.4"/>
<text x="409.49" y="520.60" font-size="8.66" textLength="75.81" lengthAdjust="spacingAndGlyphs">active, Total T1: 158</text>
<circle cx="395.60" cy="528.40" r="1.15" fill="#f0f000" stroke="#000" stroke-width="0.4"/>
<text x="409.53" y="531.40" font-size="8.66" textLength="99.84" lengthAdjust="spacingAndGlyphs">passive shear, Total T1: 64</text>
</svg>
</body></html>
